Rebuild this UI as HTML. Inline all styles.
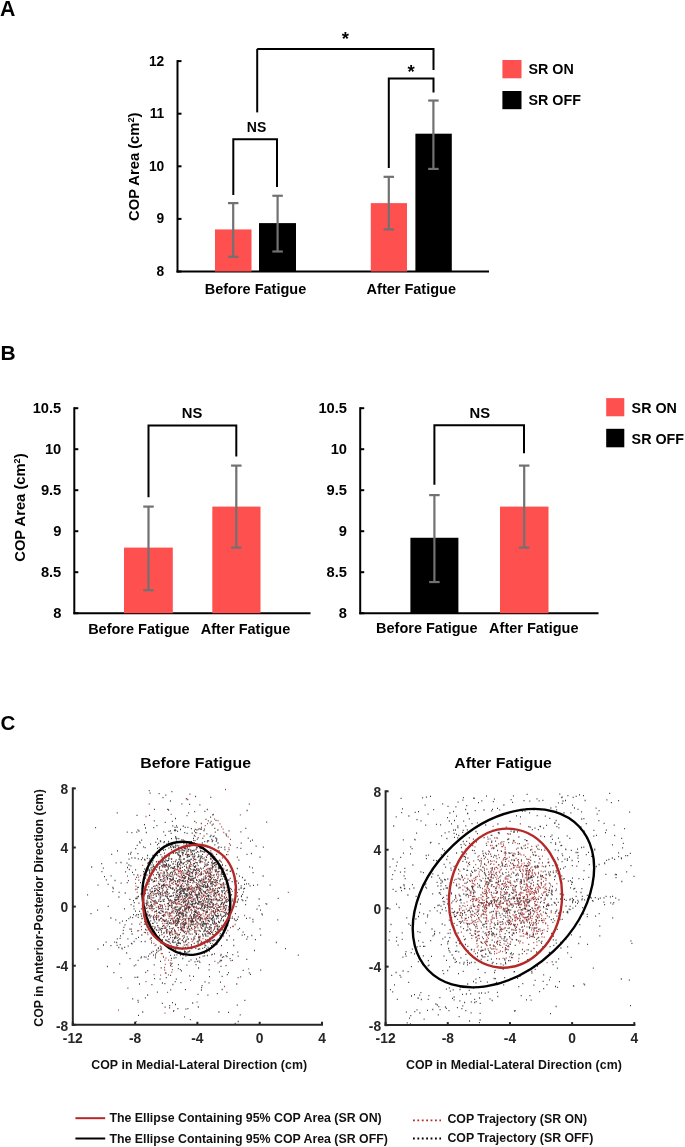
<!DOCTYPE html>
<html><head><meta charset="utf-8"><style>
html,body{margin:0;padding:0;background:#fff;}
svg{display:block;filter:blur(0.35px);}
text{font-family:"Liberation Sans", sans-serif;font-weight:bold;}
</style></head><body>
<svg width="685" height="1147" viewBox="0 0 685 1147">
<rect width="685" height="1147" fill="#fff"/>
<text x="0.10" y="15.80" font-size="21.3" text-anchor="start" fill="#000" >A</text>
<line x1="177.50" y1="60.10" x2="177.50" y2="272.50" stroke="#000" stroke-width="2" />
<line x1="176.50" y1="271.50" x2="489.00" y2="271.50" stroke="#000" stroke-width="2" />
<line x1="177.50" y1="271.50" x2="181.50" y2="271.50" stroke="#000" stroke-width="2" />
<text x="164.30" y="275.90" font-size="13.8" text-anchor="end" fill="#000" >8</text>
<line x1="177.50" y1="218.90" x2="181.50" y2="218.90" stroke="#000" stroke-width="2" />
<text x="164.30" y="223.30" font-size="13.8" text-anchor="end" fill="#000" >9</text>
<line x1="177.50" y1="166.30" x2="181.50" y2="166.30" stroke="#000" stroke-width="2" />
<text x="164.30" y="170.70" font-size="13.8" text-anchor="end" fill="#000" >10</text>
<line x1="177.50" y1="113.70" x2="181.50" y2="113.70" stroke="#000" stroke-width="2" />
<text x="164.30" y="118.10" font-size="13.8" text-anchor="end" fill="#000" >11</text>
<line x1="177.50" y1="61.10" x2="181.50" y2="61.10" stroke="#000" stroke-width="2" />
<text x="164.30" y="65.50" font-size="13.8" text-anchor="end" fill="#000" >12</text>
<rect x="215.00" y="229.42" width="36.50" height="42.08" fill="#FF5050"/>
<rect x="259.00" y="223.11" width="37.00" height="48.39" fill="#000"/>
<rect x="370.80" y="203.12" width="36.20" height="68.38" fill="#FF5050"/>
<rect x="415.40" y="133.69" width="36.40" height="137.81" fill="#000"/>
<line x1="233.20" y1="203.12" x2="233.20" y2="256.77" stroke="#717171" stroke-width="2.2" />
<line x1="227.95" y1="203.12" x2="238.45" y2="203.12" stroke="#717171" stroke-width="2.2" />
<line x1="227.95" y1="256.77" x2="238.45" y2="256.77" stroke="#717171" stroke-width="2.2" />
<line x1="277.60" y1="195.76" x2="277.60" y2="251.51" stroke="#717171" stroke-width="2.2" />
<line x1="272.35" y1="195.76" x2="282.85" y2="195.76" stroke="#717171" stroke-width="2.2" />
<line x1="272.35" y1="251.51" x2="282.85" y2="251.51" stroke="#717171" stroke-width="2.2" />
<line x1="388.80" y1="176.82" x2="388.80" y2="229.42" stroke="#717171" stroke-width="2.2" />
<line x1="383.55" y1="176.82" x2="394.05" y2="176.82" stroke="#717171" stroke-width="2.2" />
<line x1="383.55" y1="229.42" x2="394.05" y2="229.42" stroke="#717171" stroke-width="2.2" />
<line x1="433.40" y1="100.55" x2="433.40" y2="168.93" stroke="#717171" stroke-width="2.2" />
<line x1="428.15" y1="100.55" x2="438.65" y2="100.55" stroke="#717171" stroke-width="2.2" />
<line x1="428.15" y1="168.93" x2="438.65" y2="168.93" stroke="#717171" stroke-width="2.2" />
<polyline points="233.30,195.00 233.30,139.30 277.00,139.30 277.00,187.00" fill="none" stroke="#000" stroke-width="2" stroke-linejoin="miter" stroke-linecap="butt"/>
<line x1="257.20" y1="48.90" x2="257.20" y2="112.40" stroke="#000" stroke-width="2" />
<polyline points="257.20,48.90 433.50,48.90 433.50,70.00" fill="none" stroke="#000" stroke-width="2" stroke-linejoin="miter" stroke-linecap="butt"/>
<polyline points="388.80,168.00 388.80,78.50 433.50,78.50 433.50,92.50" fill="none" stroke="#000" stroke-width="2" stroke-linejoin="miter" stroke-linecap="butt"/>
<text x="256.60" y="131.60" font-size="14" text-anchor="middle" fill="#000" >NS</text>
<text x="345.40" y="45.40" font-size="18.5" text-anchor="middle" fill="#000" >*</text>
<text x="411.10" y="78.10" font-size="18.5" text-anchor="middle" fill="#000" >*</text>
<text transform="translate(138.7,166.8) rotate(-90)" font-size="14.75" text-anchor="middle" fill="#000">COP Area (cm<tspan font-size="9" dy="-5">2</tspan><tspan dy="5">)</tspan></text>
<text x="255.50" y="294.00" font-size="14.5" text-anchor="middle" fill="#000" >Before Fatigue</text>
<text x="411.30" y="294.00" font-size="14.5" text-anchor="middle" fill="#000" >After Fatigue</text>
<rect x="502.40" y="60.00" width="19.10" height="18.30" fill="#FF5050"/>
<rect x="502.40" y="91.00" width="19.10" height="18.20" fill="#000"/>
<text x="528.50" y="74.30" font-size="14.3" text-anchor="start" fill="#000" >SR ON</text>
<text x="528.50" y="104.80" font-size="14.3" text-anchor="start" fill="#000" >SR OFF</text>
<text x="0.60" y="359.90" font-size="21" text-anchor="start" fill="#000" >B</text>
<line x1="74.30" y1="407.20" x2="74.30" y2="614.20" stroke="#000" stroke-width="2" />
<line x1="73.30" y1="613.20" x2="310.50" y2="613.20" stroke="#000" stroke-width="2" />
<line x1="74.30" y1="613.20" x2="78.30" y2="613.20" stroke="#000" stroke-width="2" />
<text x="61.30" y="617.70" font-size="14.7" text-anchor="end" fill="#000" >8</text>
<line x1="74.30" y1="572.20" x2="78.30" y2="572.20" stroke="#000" stroke-width="2" />
<text x="61.30" y="576.70" font-size="14.7" text-anchor="end" fill="#000" >8.5</text>
<line x1="74.30" y1="531.20" x2="78.30" y2="531.20" stroke="#000" stroke-width="2" />
<text x="61.30" y="535.70" font-size="14.7" text-anchor="end" fill="#000" >9</text>
<line x1="74.30" y1="490.20" x2="78.30" y2="490.20" stroke="#000" stroke-width="2" />
<text x="61.30" y="494.70" font-size="14.7" text-anchor="end" fill="#000" >9.5</text>
<line x1="74.30" y1="449.20" x2="78.30" y2="449.20" stroke="#000" stroke-width="2" />
<text x="61.30" y="453.70" font-size="14.7" text-anchor="end" fill="#000" >10</text>
<line x1="74.30" y1="408.20" x2="78.30" y2="408.20" stroke="#000" stroke-width="2" />
<text x="61.30" y="412.70" font-size="14.7" text-anchor="end" fill="#000" >10.5</text>
<line x1="360.20" y1="407.20" x2="360.20" y2="614.20" stroke="#000" stroke-width="2" />
<line x1="359.20" y1="613.20" x2="598.50" y2="613.20" stroke="#000" stroke-width="2" />
<line x1="360.20" y1="613.20" x2="364.20" y2="613.20" stroke="#000" stroke-width="2" />
<text x="347.00" y="617.70" font-size="14.7" text-anchor="end" fill="#000" >8</text>
<line x1="360.20" y1="572.20" x2="364.20" y2="572.20" stroke="#000" stroke-width="2" />
<text x="347.00" y="576.70" font-size="14.7" text-anchor="end" fill="#000" >8.5</text>
<line x1="360.20" y1="531.20" x2="364.20" y2="531.20" stroke="#000" stroke-width="2" />
<text x="347.00" y="535.70" font-size="14.7" text-anchor="end" fill="#000" >9</text>
<line x1="360.20" y1="490.20" x2="364.20" y2="490.20" stroke="#000" stroke-width="2" />
<text x="347.00" y="494.70" font-size="14.7" text-anchor="end" fill="#000" >9.5</text>
<line x1="360.20" y1="449.20" x2="364.20" y2="449.20" stroke="#000" stroke-width="2" />
<text x="347.00" y="453.70" font-size="14.7" text-anchor="end" fill="#000" >10</text>
<line x1="360.20" y1="408.20" x2="364.20" y2="408.20" stroke="#000" stroke-width="2" />
<text x="347.00" y="412.70" font-size="14.7" text-anchor="end" fill="#000" >10.5</text>
<rect x="124.00" y="547.60" width="48.80" height="65.60" fill="#FF5050"/>
<rect x="212.30" y="506.60" width="48.20" height="106.60" fill="#FF5050"/>
<line x1="148.50" y1="506.60" x2="148.50" y2="590.24" stroke="#717171" stroke-width="2.2" />
<line x1="143.25" y1="506.60" x2="153.75" y2="506.60" stroke="#717171" stroke-width="2.2" />
<line x1="143.25" y1="590.24" x2="153.75" y2="590.24" stroke="#717171" stroke-width="2.2" />
<line x1="236.30" y1="465.60" x2="236.30" y2="547.60" stroke="#717171" stroke-width="2.2" />
<line x1="231.05" y1="465.60" x2="241.55" y2="465.60" stroke="#717171" stroke-width="2.2" />
<line x1="231.05" y1="547.60" x2="241.55" y2="547.60" stroke="#717171" stroke-width="2.2" />
<polyline points="148.50,497.20 148.50,425.60 236.30,425.60 236.30,456.40" fill="none" stroke="#000" stroke-width="2" stroke-linejoin="miter" stroke-linecap="butt"/>
<text x="192.00" y="418.20" font-size="14.8" text-anchor="middle" fill="#000" >NS</text>
<text x="138.90" y="633.80" font-size="14.5" text-anchor="middle" fill="#000" >Before Fatigue</text>
<text x="245.50" y="634.20" font-size="14.5" text-anchor="middle" fill="#000" >After Fatigue</text>
<text transform="translate(25,507.6) rotate(-90)" font-size="14.75" text-anchor="middle" fill="#000">COP Area (cm<tspan font-size="9" dy="-5">2</tspan><tspan dy="5">)</tspan></text>
<rect x="410.40" y="537.76" width="48.00" height="75.44" fill="#000"/>
<rect x="500.00" y="506.60" width="48.50" height="106.60" fill="#FF5050"/>
<line x1="434.40" y1="495.12" x2="434.40" y2="582.04" stroke="#717171" stroke-width="2.2" />
<line x1="429.15" y1="495.12" x2="439.65" y2="495.12" stroke="#717171" stroke-width="2.2" />
<line x1="429.15" y1="582.04" x2="439.65" y2="582.04" stroke="#717171" stroke-width="2.2" />
<line x1="524.20" y1="465.60" x2="524.20" y2="547.60" stroke="#717171" stroke-width="2.2" />
<line x1="518.95" y1="465.60" x2="529.45" y2="465.60" stroke="#717171" stroke-width="2.2" />
<line x1="518.95" y1="547.60" x2="529.45" y2="547.60" stroke="#717171" stroke-width="2.2" />
<polyline points="434.40,484.80 434.40,425.30 524.00,425.30 524.00,453.20" fill="none" stroke="#000" stroke-width="2" stroke-linejoin="miter" stroke-linecap="butt"/>
<text x="479.90" y="418.20" font-size="14.8" text-anchor="middle" fill="#000" >NS</text>
<text x="426.80" y="632.50" font-size="14.5" text-anchor="middle" fill="#000" >Before Fatigue</text>
<text x="533.80" y="632.80" font-size="14.5" text-anchor="middle" fill="#000" >After Fatigue</text>
<rect x="606.20" y="398.10" width="18.10" height="18.20" fill="#FF5050"/>
<rect x="606.20" y="428.80" width="18.10" height="18.50" fill="#000"/>
<text x="631.60" y="412.90" font-size="14.3" text-anchor="start" fill="#000" >SR ON</text>
<text x="631.60" y="443.50" font-size="14.3" text-anchor="start" fill="#000" >SR OFF</text>
<text x="0.50" y="730.30" font-size="20.5" text-anchor="start" fill="#000" >C</text>
<line x1="72.80" y1="787.40" x2="72.80" y2="1025.80" stroke="#262626" stroke-width="2" />
<line x1="71.80" y1="1024.80" x2="323.00" y2="1024.80" stroke="#262626" stroke-width="2" />
<line x1="72.80" y1="788.40" x2="75.80" y2="788.40" stroke="#262626" stroke-width="2" />
<text x="68.30" y="794.10" font-size="13.8" text-anchor="end" fill="#262626" >8</text>
<line x1="72.80" y1="847.50" x2="75.80" y2="847.50" stroke="#262626" stroke-width="2" />
<text x="68.30" y="853.20" font-size="13.8" text-anchor="end" fill="#262626" >4</text>
<line x1="72.80" y1="906.60" x2="75.80" y2="906.60" stroke="#262626" stroke-width="2" />
<text x="68.30" y="912.30" font-size="13.8" text-anchor="end" fill="#262626" >0</text>
<line x1="72.80" y1="965.70" x2="75.80" y2="965.70" stroke="#262626" stroke-width="2" />
<text x="68.30" y="971.40" font-size="13.8" text-anchor="end" fill="#262626" >-4</text>
<line x1="72.80" y1="1024.80" x2="75.80" y2="1024.80" stroke="#262626" stroke-width="2" />
<text x="68.30" y="1030.50" font-size="13.8" text-anchor="end" fill="#262626" >-8</text>
<line x1="72.80" y1="1024.80" x2="72.80" y2="1021.80" stroke="#262626" stroke-width="2" />
<text x="72.80" y="1042.80" font-size="13.8" text-anchor="middle" fill="#262626" >-12</text>
<line x1="135.10" y1="1024.80" x2="135.10" y2="1021.80" stroke="#262626" stroke-width="2" />
<text x="135.10" y="1042.80" font-size="13.8" text-anchor="middle" fill="#262626" >-8</text>
<line x1="197.40" y1="1024.80" x2="197.40" y2="1021.80" stroke="#262626" stroke-width="2" />
<text x="197.40" y="1042.80" font-size="13.8" text-anchor="middle" fill="#262626" >-4</text>
<line x1="259.70" y1="1024.80" x2="259.70" y2="1021.80" stroke="#262626" stroke-width="2" />
<text x="259.70" y="1042.80" font-size="13.8" text-anchor="middle" fill="#262626" >0</text>
<line x1="322.00" y1="1024.80" x2="322.00" y2="1021.80" stroke="#262626" stroke-width="2" />
<text x="322.00" y="1042.80" font-size="13.8" text-anchor="middle" fill="#262626" >4</text>
<text transform="translate(195.6,767.8) scale(1,0.95)" font-size="15.85" text-anchor="middle" fill="#000">Before Fatigue</text>
<text x="199.20" y="1068.50" font-size="12.35" text-anchor="middle" fill="#111" letter-spacing="0.06">COP in Medial-Lateral Direction (cm)</text>
<line x1="385.60" y1="790.30" x2="385.60" y2="1026.10" stroke="#262626" stroke-width="2" />
<line x1="384.60" y1="1025.10" x2="635.30" y2="1025.10" stroke="#262626" stroke-width="2" />
<line x1="385.60" y1="791.30" x2="388.60" y2="791.30" stroke="#262626" stroke-width="2" />
<text x="381.10" y="797.00" font-size="13.8" text-anchor="end" fill="#262626" >8</text>
<line x1="385.60" y1="849.75" x2="388.60" y2="849.75" stroke="#262626" stroke-width="2" />
<text x="381.10" y="855.45" font-size="13.8" text-anchor="end" fill="#262626" >4</text>
<line x1="385.60" y1="908.20" x2="388.60" y2="908.20" stroke="#262626" stroke-width="2" />
<text x="381.10" y="913.90" font-size="13.8" text-anchor="end" fill="#262626" >0</text>
<line x1="385.60" y1="966.65" x2="388.60" y2="966.65" stroke="#262626" stroke-width="2" />
<text x="381.10" y="972.35" font-size="13.8" text-anchor="end" fill="#262626" >-4</text>
<line x1="385.60" y1="1025.10" x2="388.60" y2="1025.10" stroke="#262626" stroke-width="2" />
<text x="381.10" y="1030.80" font-size="13.8" text-anchor="end" fill="#262626" >-8</text>
<line x1="385.60" y1="1025.10" x2="385.60" y2="1022.10" stroke="#262626" stroke-width="2" />
<text x="385.60" y="1043.10" font-size="13.8" text-anchor="middle" fill="#262626" >-12</text>
<line x1="447.77" y1="1025.10" x2="447.77" y2="1022.10" stroke="#262626" stroke-width="2" />
<text x="447.77" y="1043.10" font-size="13.8" text-anchor="middle" fill="#262626" >-8</text>
<line x1="509.95" y1="1025.10" x2="509.95" y2="1022.10" stroke="#262626" stroke-width="2" />
<text x="509.95" y="1043.10" font-size="13.8" text-anchor="middle" fill="#262626" >-4</text>
<line x1="572.12" y1="1025.10" x2="572.12" y2="1022.10" stroke="#262626" stroke-width="2" />
<text x="572.12" y="1043.10" font-size="13.8" text-anchor="middle" fill="#262626" >0</text>
<line x1="634.30" y1="1025.10" x2="634.30" y2="1022.10" stroke="#262626" stroke-width="2" />
<text x="634.30" y="1043.10" font-size="13.8" text-anchor="middle" fill="#262626" >4</text>
<text transform="translate(503.1,767.8) scale(1,0.95)" font-size="15.85" text-anchor="middle" fill="#000">After Fatigue</text>
<text x="513.90" y="1068.50" font-size="12.35" text-anchor="middle" fill="#111" letter-spacing="0.06">COP in Medial-Lateral Direction (cm)</text>
<text transform="translate(42.5,908) rotate(-90)" font-size="12.4" text-anchor="middle" fill="#111">COP in Anterior-Posterior Direction (cm)</text>
<path d="M226.8 883.6h1M188.0 907.0h1M201.3 878.7h1M151.8 908.2h1M223.9 874.7h1M177.4 943.2h1M213.0 879.5h1M186.5 906.6h1M153.1 916.2h1M174.1 880.6h1M154.1 888.6h1M186.6 891.4h1M186.8 888.8h1M185.8 933.5h1M224.7 893.0h1M184.1 862.7h1M164.3 880.6h1M159.0 887.6h1M174.0 899.7h1M199.2 889.9h1M182.1 924.5h1M216.4 873.9h1M200.0 915.4h1M183.3 879.0h1M216.1 881.0h1M204.9 919.0h1M192.3 872.0h1M183.5 942.5h1M228.1 906.9h1M181.1 902.3h1M180.1 867.2h1M185.1 919.8h1M213.0 884.4h1M196.7 895.6h1M188.1 910.1h1M185.2 904.6h1M179.0 910.5h1M178.9 934.5h1M201.3 896.5h1M199.5 937.9h1M186.7 939.2h1M179.1 876.8h1M164.0 928.2h1M182.3 852.6h1M175.8 904.6h1M172.2 929.2h1M205.2 921.1h1M192.7 922.1h1M208.1 878.9h1M177.4 902.5h1M176.1 933.8h1M193.2 916.6h1M209.3 872.0h1M177.8 855.1h1M180.8 872.0h1M197.5 870.4h1M191.7 941.7h1M185.6 861.6h1M218.5 907.3h1M179.2 879.3h1M174.5 933.0h1M175.6 874.3h1M194.1 930.3h1M173.1 923.0h1M183.6 885.9h1M226.6 874.2h1M170.3 932.8h1M209.8 933.6h1M206.2 912.3h1M178.7 876.5h1M201.9 883.9h1M212.9 895.6h1M175.8 921.1h1M198.4 912.8h1M210.5 886.4h1M205.1 913.0h1M225.4 909.0h1M192.7 864.9h1M228.1 890.0h1M190.9 886.0h1M203.4 907.8h1M154.6 927.6h1M180.0 896.9h1M198.5 887.8h1M190.1 862.7h1M210.8 902.5h1M171.4 905.7h1M195.4 859.5h1M157.3 892.1h1M180.2 880.5h1M220.2 884.6h1M218.0 887.7h1M209.9 856.3h1M179.4 893.0h1M182.2 919.1h1M206.7 923.7h1M193.3 903.5h1M164.5 867.3h1M195.5 849.8h1M204.9 873.2h1M221.7 870.0h1M184.4 920.3h1M168.4 939.7h1M196.0 916.0h1M186.3 896.2h1M200.0 890.9h1M190.8 864.6h1M181.7 901.5h1M212.3 932.1h1M208.1 862.3h1M215.1 870.9h1M193.3 859.0h1M182.2 927.3h1M158.4 930.0h1M158.2 881.9h1M213.8 877.4h1M190.5 921.6h1M175.2 907.7h1M211.8 902.7h1M214.8 893.0h1M190.0 909.9h1M204.3 852.0h1M179.7 877.0h1M158.4 906.8h1M180.2 904.7h1M186.5 932.0h1M192.9 858.4h1M177.4 899.7h1M227.6 910.2h1M177.4 885.0h1M211.3 892.0h1M222.4 909.1h1M214.2 892.1h1M221.9 917.1h1M182.1 919.4h1M213.1 888.9h1M224.5 884.1h1M205.3 934.1h1M182.0 854.4h1M172.0 883.1h1M164.5 921.3h1M195.2 866.2h1M166.2 871.5h1M192.6 918.3h1M150.4 905.8h1M180.4 859.7h1M176.6 885.2h1M166.4 893.4h1M187.5 869.8h1M216.8 926.2h1M217.3 900.5h1M222.3 898.8h1M159.5 870.4h1M164.8 912.6h1M210.8 853.8h1M212.2 888.4h1M193.1 899.5h1M179.5 908.7h1M158.4 920.8h1M164.2 892.5h1M222.3 868.1h1M164.2 880.6h1M177.5 935.4h1M176.3 875.0h1M173.9 931.0h1M155.9 888.8h1M210.8 909.9h1M161.9 888.3h1M150.6 908.9h1M164.3 864.9h1M166.4 889.1h1M179.5 892.9h1M186.3 854.1h1M208.6 916.9h1M189.9 850.2h1M162.9 872.2h1M179.7 871.8h1M157.7 927.5h1M216.7 909.9h1M221.3 872.7h1M208.1 854.4h1M221.6 886.0h1M149.2 914.6h1M209.7 873.6h1M207.6 872.7h1M156.9 890.4h1M211.5 875.5h1M203.7 857.9h1M214.3 913.2h1M214.0 922.8h1M157.0 925.6h1M158.0 894.6h1M166.0 863.7h1M154.7 886.0h1M217.6 861.4h1M191.3 890.1h1M193.7 899.5h1M171.4 931.4h1M208.2 876.0h1M190.7 852.5h1M216.1 895.2h1M163.7 871.9h1M204.3 910.9h1M155.6 901.5h1M230.0 888.3h1M224.8 910.7h1M201.0 869.2h1M160.0 904.9h1M220.4 887.0h1M205.4 872.7h1M216.7 905.2h1M163.4 864.7h1M215.1 858.5h1M185.1 923.4h1M179.6 860.9h1M188.3 942.7h1M196.6 922.7h1M170.0 937.6h1M179.3 938.9h1M228.6 879.8h1M190.6 910.1h1M152.9 923.4h1M147.3 907.8h1M181.9 876.3h1M222.8 884.1h1M179.8 889.0h1M210.7 865.1h1M213.8 921.8h1M170.0 865.4h1M208.0 932.1h1M205.4 875.6h1M177.5 889.6h1M214.8 924.6h1M193.5 889.9h1M169.1 896.5h1M168.8 902.2h1M222.3 911.5h1M213.1 875.5h1M150.5 899.4h1M212.5 863.9h1M224.4 910.6h1M173.3 861.6h1M161.0 932.5h1M167.6 894.6h1M171.4 879.9h1M205.0 860.9h1M218.4 875.2h1M208.3 929.5h1M213.9 859.9h1M207.0 911.2h1M204.3 895.3h1M177.8 937.1h1M181.8 936.1h1M192.4 871.6h1M180.0 894.1h1M184.5 902.1h1M194.8 873.1h1M210.0 883.6h1M177.2 882.1h1M184.0 888.9h1M200.8 879.9h1M182.8 924.6h1M202.4 894.2h1M198.1 914.4h1M216.6 900.9h1M206.9 854.9h1M207.7 932.8h1M175.5 924.7h1M174.4 897.8h1M206.4 909.6h1M158.3 919.6h1M172.9 923.3h1M217.2 910.3h1M160.2 877.1h1M156.4 913.7h1M210.7 930.0h1M192.4 882.8h1M169.8 913.7h1M197.2 896.8h1M211.9 869.6h1M161.3 921.3h1M207.5 906.6h1M187.0 907.8h1M188.5 928.9h1M206.3 899.1h1M180.3 916.3h1M202.4 919.9h1M198.9 939.7h1M177.7 873.5h1M209.1 926.7h1M215.3 896.3h1M201.3 921.7h1M185.0 914.3h1M198.8 912.5h1M158.7 878.0h1M209.8 872.1h1M200.5 872.8h1M147.7 912.2h1M198.3 852.2h1M195.0 872.3h1M170.8 876.5h1M199.9 861.4h1M176.9 912.0h1M189.1 865.9h1M166.9 896.8h1M186.7 854.8h1M188.6 882.4h1M228.4 909.1h1M199.9 875.2h1M213.4 898.8h1M178.9 904.1h1M155.1 878.0h1M206.8 855.4h1M199.9 899.3h1M174.8 868.9h1M174.5 923.5h1M221.6 900.7h1M177.2 922.4h1M162.9 865.5h1M206.8 904.7h1M211.9 858.2h1M210.8 899.6h1M191.8 934.1h1M176.1 925.9h1M218.0 905.4h1M217.0 876.8h1M222.5 883.4h1M198.7 888.2h1M192.8 907.0h1M210.5 853.0h1M178.2 918.7h1M183.3 925.0h1M181.8 876.5h1M219.0 911.1h1M231.8 891.3h1M214.1 880.0h1M174.7 920.3h1M196.5 868.8h1M183.2 901.2h1M200.2 902.7h1M180.2 899.8h1M201.0 918.3h1M226.5 913.3h1M205.4 896.1h1M163.8 921.3h1M188.4 918.2h1M185.2 905.1h1M227.4 880.1h1M196.7 880.7h1M185.2 880.7h1M190.9 939.0h1M189.4 873.4h1M183.3 877.8h1M148.6 895.4h1M190.8 917.2h1M199.7 936.4h1M168.8 912.7h1M184.1 932.5h1M207.3 876.3h1M165.2 906.5h1M171.4 858.8h1M221.9 864.3h1M176.5 885.2h1M208.8 927.4h1M182.7 913.7h1M210.1 881.2h1M200.4 898.4h1M195.5 933.0h1M162.6 874.0h1M211.9 860.7h1M205.6 856.6h1M186.2 867.8h1M184.1 878.6h1M187.5 899.2h1M215.7 904.1h1M162.3 866.9h1M215.2 906.3h1M199.5 859.7h1M217.2 925.2h1M228.7 896.9h1M226.2 890.4h1M205.8 925.4h1M171.6 888.5h1M223.7 906.4h1M216.9 888.5h1M225.2 894.9h1M181.8 877.4h1M212.5 854.9h1M184.5 915.8h1M227.4 892.5h1M228.7 900.4h1M204.9 901.0h1M190.6 852.7h1M155.7 895.5h1M215.9 870.2h1M175.0 881.5h1M169.1 885.0h1M195.6 917.4h1M194.1 926.8h1M223.5 885.9h1M224.3 879.0h1M156.3 917.2h1M196.5 868.9h1M184.8 870.6h1M183.0 938.3h1M202.5 938.7h1M189.3 874.5h1M216.2 885.2h1M211.8 890.4h1M163.2 937.4h1M194.5 898.3h1M172.5 939.8h1M223.3 908.6h1M214.0 890.5h1M177.1 935.1h1M204.4 870.8h1M190.2 934.1h1M216.4 884.6h1M148.7 906.5h1M204.0 866.7h1M158.2 877.0h1M192.7 860.6h1M212.8 905.5h1M225.3 915.0h1M177.7 914.9h1M218.7 860.6h1M225.1 865.6h1M179.8 856.2h1M162.3 879.8h1M221.6 902.6h1M226.5 870.7h1M174.4 873.0h1M160.5 873.0h1M210.0 858.6h1M192.8 939.6h1M168.8 878.7h1M175.3 864.3h1M190.0 882.3h1M199.0 902.2h1M187.6 881.7h1M219.5 868.5h1M171.8 879.3h1M209.1 932.7h1M199.9 888.5h1M203.7 906.0h1M194.3 938.6h1M206.4 869.8h1M172.4 887.8h1M170.1 935.6h1M196.3 874.0h1M194.7 914.6h1M211.2 912.2h1M205.2 877.1h1M196.9 885.6h1M169.5 878.7h1M196.8 915.3h1M166.3 933.2h1M214.5 885.5h1M181.7 896.7h1M206.2 886.8h1M170.7 906.2h1M154.5 905.1h1M209.2 899.2h1M202.7 903.7h1M201.8 897.4h1M175.4 894.8h1M188.2 920.4h1M217.1 900.0h1M176.7 885.1h1M186.3 923.2h1M195.1 894.7h1M176.5 915.3h1M194.4 894.9h1M191.2 927.9h1M186.7 928.7h1M210.5 894.2h1M204.5 891.9h1M175.4 894.0h1M174.1 908.8h1M189.7 907.3h1M203.5 836.0h1M194.7 862.1h1M192.3 879.8h1M191.2 921.9h1M160.5 905.0h1M188.1 861.5h1M200.5 895.5h1M180.8 884.6h1M244.0 880.3h1M158.9 884.3h1M183.2 890.5h1M188.1 877.3h1M198.7 886.1h1M166.4 885.2h1M182.9 913.6h1M197.7 889.0h1M189.8 900.6h1M224.1 879.4h1M197.4 908.9h1M173.3 902.9h1M192.2 887.4h1M199.1 914.3h1M208.6 889.9h1M192.7 940.1h1M170.7 903.9h1M204.6 897.0h1M200.6 898.1h1M202.2 918.6h1M185.7 901.0h1M188.5 889.3h1M189.1 875.6h1M202.1 926.4h1M218.4 915.8h1M173.1 927.8h1M177.3 897.7h1M220.8 871.4h1M203.7 899.6h1M186.9 880.7h1M196.6 886.8h1M207.2 916.6h1M166.1 891.1h1M184.0 875.5h1M170.5 901.5h1M185.9 866.4h1M180.3 907.9h1M169.0 882.8h1M216.4 916.9h1M162.0 875.9h1M195.9 873.3h1M185.2 888.9h1M199.0 847.8h1M152.1 879.9h1M206.7 890.9h1M160.5 910.7h1M201.5 890.1h1M183.9 905.8h1M210.0 896.1h1M198.5 894.3h1M183.0 880.6h1M193.8 890.3h1M185.3 914.7h1M197.7 911.6h1M162.7 911.5h1M179.4 883.2h1M175.0 921.7h1M203.5 880.9h1M170.2 900.1h1M181.7 929.0h1M164.7 866.5h1M185.1 897.6h1M191.7 910.4h1M224.6 884.4h1M180.2 865.3h1M193.6 912.0h1M185.0 919.5h1M190.0 924.9h1M195.1 876.0h1M178.7 869.8h1M160.0 906.5h1M204.2 930.8h1M188.5 892.4h1M170.6 918.3h1M196.1 884.4h1M201.1 905.2h1M157.7 915.8h1M191.8 889.0h1M182.4 930.5h1M215.5 926.5h1M170.0 887.6h1M204.8 871.5h1M177.2 864.9h1M220.9 911.4h1M197.2 899.5h1M182.4 890.4h1M199.9 881.6h1M210.3 884.0h1M174.6 923.4h1M187.0 907.5h1M182.4 855.7h1M198.7 869.9h1M207.8 864.6h1M157.8 907.7h1M196.7 897.5h1M168.9 916.7h1M164.6 892.1h1M176.1 891.8h1M203.9 882.4h1M199.0 908.1h1M160.4 879.6h1M183.0 886.7h1M194.7 859.7h1M201.7 908.6h1M186.6 871.3h1M189.6 886.6h1M199.1 893.5h1M201.8 886.5h1M213.9 849.5h1M172.2 908.7h1M163.8 914.7h1M168.8 901.8h1M155.8 880.9h1M191.8 897.8h1M173.4 1010.7h1M186.3 854.5h1M216.6 944.0h1M226.4 992.4h1M155.0 956.0h1M223.6 903.0h1M167.1 992.4h1M127.0 876.2h1M195.5 931.8h1M239.8 814.9h1M187.4 946.0h1M142.6 901.0h1M248.2 968.8h1M181.7 922.3h1M175.8 899.7h1M287.8 892.3h1M154.0 915.1h1M175.6 887.5h1M183.1 941.7h1M193.8 842.9h1M181.6 926.7h1M170.6 960.4h1M211.6 853.5h1M196.6 1002.2h1M237.5 900.2h1M215.6 869.3h1M138.2 930.7h1M194.1 928.7h1M185.2 919.3h1M169.1 926.7h1M213.5 900.1h1M212.9 814.5h1M160.1 975.2h1M244.1 915.5h1M182.6 839.6h1M198.0 941.9h1M137.1 930.9h1M202.2 925.0h1M148.8 930.1h1M136.6 977.4h1M190.5 844.8h1M230.4 960.7h1M164.5 1013.2h1M152.9 918.7h1M225.0 789.5h1M219.0 899.8h1M185.5 849.2h1M196.9 847.5h1M154.0 880.6h1M145.5 981.6h1M142.2 865.3h1M175.6 903.2h1M212.1 943.9h1M176.0 883.8h1M187.2 944.1h1M209.0 877.2h1M118.0 1010.2h1M217.4 916.2h1M197.2 876.9h1M153.0 886.4h1M178.7 871.7h1M137.9 887.4h1M205.0 878.3h1M186.7 799.5h1M179.1 896.9h1M145.5 816.5h1M199.6 862.5h1M202.1 882.0h1M206.6 886.1h1M136.3 898.7h1M175.2 935.9h1M171.1 883.3h1M214.4 961.3h1M211.1 954.9h1M201.0 941.5h1M215.0 923.2h1M188.1 910.1h1M265.4 903.7h1M178.2 884.8h1M184.9 915.2h1M148.7 804.0h1M195.7 822.7h1M194.5 910.0h1M224.0 986.5h1M198.1 875.3h1M147.2 863.4h1M187.3 799.5h1M188.5 902.4h1M207.3 886.3h1M189.4 866.2h1M170.7 814.3h1M190.1 980.4h1M191.4 921.3h1M153.6 974.6h1M160.7 943.1h1M189.5 855.0h1M187.1 899.3h1M184.0 901.8h1M181.3 904.6h1M179.6 907.1h1M178.2 910.5h1M177.7 914.3h1M177.1 917.9h1M178.8 921.6h1M182.3 922.9h1M185.2 923.4h1M188.1 921.9h1M190.6 920.8h1M193.4 918.3h1M196.6 915.1h1M199.6 914.5h1M202.6 913.5h1M206.9 912.3h1M210.7 911.6h1M213.2 912.0h1M216.7 911.3h1M219.4 911.6h1M223.2 912.2h1M225.9 912.8h1M229.0 914.2h1M231.9 916.8h1M234.7 920.4h1M234.6 924.5h1M232.5 926.5h1M230.0 927.6h1M227.4 930.5h1M225.9 933.0h1M223.1 936.0h1M220.6 937.9h1M217.2 939.3h1M213.5 939.8h1M210.5 940.9h1M207.0 942.6h1M204.0 943.4h1M201.3 942.3h1M199.4 940.5h1M198.5 937.8h1M198.2 934.5h1M197.6 930.5h1M196.4 926.8h1M194.3 924.6h1M191.7 921.8h1M189.3 918.5h1M186.4 916.0h1M182.7 915.3h1M179.3 917.3h1M178.0 920.3h1M174.9 922.6h1M170.9 922.9h1M167.3 921.9h1M163.4 919.9h1M161.4 918.3h1M157.6 917.5h1M156.2 915.4h1M154.2 912.0h1M152.6 909.1h1M151.1 907.0h1M148.2 905.5h1M145.4 903.4h1M143.4 899.7h1M142.7 896.5h1M140.8 893.5h1M136.7 892.3h1M135.1 889.5h1M135.5 886.2h1M135.1 883.4h1M135.1 879.4h1M138.1 877.1h1M140.2 875.7h1M142.9 874.1h1M145.9 872.9h1M149.0 872.3h1M153.3 871.7h1M156.9 872.5h1M160.3 872.9h1M164.0 872.7h1M167.0 870.2h1M170.2 868.1h1M173.7 868.7h1M176.2 869.7h1M178.0 871.5h1M179.7 873.7h1M181.7 876.9h1M185.1 878.0h1M189.2 878.5h1M192.4 878.6h1M196.1 879.8h1M199.6 880.6h1M202.5 879.6h1M204.9 876.1h1M206.8 872.5h1M208.6 869.5h1M211.2 868.7h1M213.3 866.9h1M215.7 863.8h1M217.0 861.2h1M219.3 859.9h1M222.1 858.0h1M224.4 856.2h1M227.5 854.7h1M227.4 851.6h1M228.3 847.8h1M228.9 843.6h1M230.0 839.3h1M227.7 836.9h1M225.8 834.8h1M223.3 832.5h1M222.6 829.1h1M221.1 826.9h1M219.5 823.8h1M217.5 820.6h1M214.1 819.1h1M210.7 821.3h1M207.0 823.6h1M204.8 825.6h1M201.0 827.3h1M197.6 829.6h1M196.2 832.9h1M194.7 836.4h1M193.0 840.3h1M191.0 843.8h1M188.7 846.2h1M186.7 848.5h1M186.1 852.7h1M187.4 857.0h1M188.6 861.1h1M189.5 864.7h1M189.1 867.1h1M188.3 871.1h1M186.3 874.2h1M183.9 877.3h1M181.9 880.6h1M178.6 881.9h1M175.2 883.3h1M172.7 884.4h1M170.2 885.3h1M167.3 885.2h1M164.1 885.4h1M161.2 885.4h1M157.4 886.0h1M154.2 886.1h1M151.5 888.7h1M149.7 891.5h1M148.7 894.4h1M147.6 898.6h1M147.4 902.0h1M146.5 904.4h1M144.8 907.1h1M144.2 911.4h1M143.6 915.6h1M141.5 918.9h1M140.7 922.3h1M140.9 926.5h1M141.0 929.6h1M143.8 932.4h1M147.4 934.7h1M150.4 938.0h1M151.0 940.8h1M153.4 943.4h1M154.5 945.7h1M157.9 947.6h1M159.4 950.4h1M160.8 953.6h1M162.8 956.3h1M165.4 958.1h1M168.1 960.1h1M169.8 963.0h1M171.5 966.4h1M171.9 969.7h1M171.3 972.1h1M167.9 974.9h1M164.9 972.8h1M164.2 970.0h1M164.1 967.5h1M164.8 964.3h1M164.4 960.2h1M163.1 957.3h1M161.8 953.7h1M161.1 949.6h1M160.8 947.1h1M160.5 943.4h1M161.9 939.7h1M163.8 936.5h1M163.7 932.5h1M165.1 928.4h1M167.7 924.7h1M169.6 922.3h1M172.4 919.7h1M174.8 916.7h1M178.1 914.0h1M180.1 911.9h1M182.0 910.0h1M186.1 908.1h1M189.2 907.0h1M191.7 906.3h1M195.6 907.4h1M191.5 899.6h1M193.4 900.9h1M195.2 903.3h1M198.4 904.2h1M201.5 903.9h1M204.5 902.7h1M207.2 901.9h1M209.4 900.8h1M212.7 899.8h1M216.1 898.5h1M218.9 895.9h1M222.1 896.2h1M224.6 898.7h1M227.0 899.2h1M230.0 898.1h1M230.6 895.4h1M229.5 892.5h1M227.1 890.3h1M224.3 887.7h1M223.2 885.9h1M221.1 884.8h1M218.6 883.5h1M215.1 881.9h1M211.9 881.6h1M208.3 882.3h1M205.4 883.2h1M202.3 884.3h1M200.4 885.8h1M198.5 887.1h1M195.9 887.8h1M193.4 888.2h1M190.8 888.8h1M187.4 888.4h1M184.1 888.7h1M182.0 889.4h1M180.5 892.8h1M179.1 895.0h1M178.7 897.2h1M177.0 899.2h1M174.8 900.0h1M173.2 901.6h1M171.4 904.6h1M171.0 907.6h1M171.7 910.1h1M171.4 912.9h1M171.3 916.0h1M172.1 918.5h1M173.7 921.8h1M175.2 924.7h1M177.2 927.6h1M180.0 929.5h1M183.2 931.0h1M186.9 930.9h1M190.3 930.1h1M192.3 929.3h1M195.0 927.6h1M195.0 923.9h1M193.5 921.4h1M191.5 919.9h1M187.9 919.0h1M184.4 918.6h1M181.2 920.1h1M178.1 921.0h1M175.5 919.9h1M172.7 918.2h1M169.7 915.9h1M167.5 914.9h1M164.7 915.5h1M161.7 915.3h1M158.3 916.0h1M155.0 916.9h1M152.7 917.0h1M149.6 916.6h1M147.3 915.2h1M147.2 911.5h1M149.3 908.4h1M151.0 906.3h1M152.9 904.2h1M155.1 903.0h1M157.9 901.4h1M159.7 899.0h1M161.4 895.9h1M161.8 892.7h1M162.8 890.4h1M162.8 887.4h1M163.4 884.9h1M165.5 882.2h1M169.0 881.3h1M170.8 880.0h1M172.9 877.8h1M173.8 874.7h1M175.0 872.4h1M177.6 870.5h1M180.8 871.3h1M183.3 872.2h1M186.0 873.0h1M188.7 873.4h1M191.0 872.7h1M193.2 870.4h1M193.9 866.6h1M196.8 864.1h1M199.1 862.1h1M202.2 861.9h1M204.3 862.8h1M206.5 865.3h1M207.3 868.5h1M207.5 871.1h1M208.3 874.2h1M209.2 876.6h1M209.3 880.0h1M208.3 882.4h1M207.1 884.2h1M207.0 887.1h1M206.1 890.1h1M205.8 893.9h1M206.0 896.7h1M206.8 898.9h1M206.9 902.3h1M209.6 904.9h1M211.7 906.9h1M212.7 910.7h1M210.8 914.0h1M208.6 914.9h1M207.1 916.3h1M204.5 917.9h1M201.8 918.1h1M198.5 917.8h1M195.3 917.7h1M192.3 918.8h1M188.5 919.1h1M185.5 921.1h1M184.5 923.0h1M184.1 925.7h1M183.6 928.7h1M181.6 930.9h1M179.9 932.7h1M176.6 933.3h1M174.5 933.9h1M171.7 934.0h1M169.2 933.3h1M166.7 931.9h1M165.9 929.5h1M164.5 926.6h1M162.2 923.5h1M162.2 919.6h1M163.1 916.4h1M164.3 914.5h1M165.5 911.7h1M167.3 909.4h1M167.6 906.1h1M167.9 903.5h1M168.6 900.3h1M166.9 896.9h1M165.4 895.0h1M162.6 893.7h1M160.0 893.4h1M156.9 893.4h1M153.6 894.3h1M153.3 897.7h1M153.7 900.8h1M156.1 902.8h1M159.0 904.6h1M161.9 905.3h1M164.1 904.5h1M167.9 904.2h1M171.4 903.6h1M175.2 903.5h1M177.7 903.8h1M181.2 904.7h1M184.8 904.6h1M188.6 905.0h1M191.4 906.3h1M193.7 906.8h1M196.1 906.4h1M199.6 904.9h1M201.8 904.9h1M204.9 904.7h1M208.3 906.3h1M210.3 906.9h1M213.5 907.9h1M215.1 909.7h1M215.0 912.0h1M213.9 913.8h1M212.8 916.7h1M210.9 919.4h1M208.6 921.2h1M206.9 923.1h1M204.3 923.5h1M201.2 923.0h1M198.2 923.1h1M194.7 924.2h1M191.7 924.6h1M189.6 926.2h1M186.4 926.9h1M183.4 927.7h1M181.1 929.3h1M178.1 930.1h1M175.1 931.3h1M171.5 932.1h1M168.5 931.5h1M165.7 930.8h1M163.6 928.4h1M163.6 925.3h1M164.5 923.3h1M165.8 921.0h1M168.5 918.3h1M169.8 915.5h1M170.8 912.9h1M173.2 910.5h1M174.6 907.3h1M176.5 903.8h1M178.9 901.4h1M181.1 899.3h1M184.8 898.8h1M188.0 897.9h1M190.0 896.9h1M191.4 895.1h1M193.7 892.3h1M196.2 889.6h1M197.5 887.2h1M199.1 884.9h1M201.5 883.9h1M204.8 881.8h1M207.7 881.4h1M211.3 881.9h1M214.8 882.4h1M217.1 880.7h1M217.9 877.0h1M217.8 874.2h1M216.2 871.7h1M214.4 869.8h1M211.8 868.8h1M208.8 868.6h1M205.8 869.4h1M203.4 870.9h1M201.0 872.0h1M199.5 874.9h1M197.0 876.8h1M194.8 877.9h1M193.2 881.1h1M192.1 882.9h1M190.9 885.6h1M190.2 888.8h1M189.8 891.5h1M189.5 895.1h1M190.3 898.3h1M191.5 901.3h1M191.6 903.9h1M193.3 906.5h1M194.2 909.9h1M195.9 912.6h1M197.2 915.8h1M198.9 917.2h1M201.9 918.5h1M204.2 919.1h1M206.2 917.7h1M207.1 915.4h1M209.6 913.1h1M212.4 911.3h1M214.8 910.3h1M216.9 909.6h1M219.7 907.0h1M222.9 905.8h1M225.7 907.5h1M228.6 907.2h1M230.0 904.1h1M228.7 901.4h1M226.4 899.6h1M224.2 897.8h1M221.0 896.0h1M217.8 894.5h1M215.4 893.6h1M213.1 893.8h1M210.2 892.3h1M207.8 892.3h1M204.1 892.8h1M201.2 893.5h1M198.0 893.8h1M194.8 893.4h1M191.8 895.3h1M188.9 896.9h1M187.4 898.7h1M185.5 900.3h1M184.8 903.9h1M184.0 907.2h1M185.6 909.9h1M188.6 911.9h1M191.2 913.4h1M193.0 915.0h1M194.8 918.0h1M196.2 921.5h1M198.3 924.2h1M200.1 926.8h1M201.8 928.8h1M204.9 930.3h1M207.6 932.0h1M211.4 932.2h1M213.1 930.3h1M214.2 926.7h1M213.6 923.6h1M212.3 920.4h1M209.7 918.0h1M206.7 916.3h1M203.5 916.1h1M200.3 917.0h1M197.7 918.9h1M195.4 920.6h1M192.9 921.7h1M190.8 923.1h1M187.7 924.9h1M184.2 923.8h1M180.8 923.3h1M177.5 923.1h1M177.1 919.8h1M178.9 916.3h1M179.8 913.6h1M181.5 912.3h1M184.1 910.5h1M185.1 908.5h1M186.8 905.6h1M187.4 903.5h1M187.8 901.2h1M189.2 898.0h1M191.0 894.6h1M191.2 892.3h1M189.8 889.4h1M188.2 887.4h1M186.7 885.1h1M184.7 883.3h1M181.6 881.6h1M181.2 878.0h1M180.8 875.4h1M181.5 872.2h1M179.9 870.3h1M176.9 869.0h1M174.7 869.6h1M172.7 871.1h1M170.2 872.7h1M168.4 874.1h1M167.1 875.7h1M165.4 877.8h1M164.6 880.0h1M163.9 883.8h1M162.7 885.6h1M160.9 888.1h1M158.0 890.6h1M154.3 890.9h1M152.6 893.4h1M150.4 894.5h1M150.6 897.7h1M151.2 899.8h1M152.9 901.5h1M154.1 903.9h1M155.7 907.3h1M158.2 909.0h1M160.3 910.3h1M162.9 912.1h1M165.4 912.8h1M167.4 913.4h1M169.6 913.5h1M173.5 913.1h1M176.4 912.7h1M179.2 912.4h1M182.1 910.8h1M184.8 911.3h1M188.2 910.2h1M191.0 909.5h1M193.6 908.1h1M197.4 908.1h1M200.8 907.6h1M204.3 906.5h1M206.7 907.4h1M210.2 907.9h1M214.0 908.3h1M217.6 907.4h1M221.3 906.7h1M224.9 905.4h1M225.8 902.4h1M225.3 899.1h1M223.7 897.1h1M221.3 894.7h1M218.9 894.0h1M216.7 892.8h1M214.3 890.5h1M212.0 889.5h1M209.9 888.8h1M207.5 887.2h1M205.0 886.9h1M201.5 886.5h1M198.8 885.9h1M196.6 886.3h1M193.9 887.8h1M191.2 887.9h1M189.0 887.7h1M185.7 887.8h1M182.7 889.2h1M179.6 889.8h1M176.4 891.1h1M174.2 890.2h1M172.1 889.0h1" stroke="#B04444" stroke-width="1.3" stroke-opacity="1.0" fill="none"/>
<path d="M178.8 855.4h1M197.7 949.3h1M181.9 850.0h1M182.8 923.4h1M163.5 901.3h1M211.7 862.0h1M183.5 899.2h1M177.3 945.3h1M173.4 942.6h1M212.1 918.8h1M190.8 928.4h1M183.4 926.5h1M196.4 923.9h1M212.6 915.5h1M156.9 903.1h1M193.4 938.8h1M183.4 843.6h1M219.9 879.5h1M181.6 940.4h1M148.4 870.0h1M166.7 894.9h1M201.5 910.1h1M209.9 931.3h1M193.1 891.5h1M178.4 899.0h1M196.7 862.6h1M212.9 916.6h1M152.7 865.0h1M208.7 868.5h1M206.9 871.7h1M216.4 903.3h1M165.4 892.1h1M183.2 902.3h1M187.6 874.6h1M218.1 922.2h1M184.6 922.5h1M196.3 868.8h1M183.8 898.7h1M149.3 908.4h1M202.8 896.0h1M177.0 922.8h1M224.9 916.2h1M162.7 920.0h1M208.7 942.2h1M216.0 923.3h1M153.0 874.9h1M198.7 895.0h1M158.9 875.8h1M168.1 865.1h1M168.7 941.8h1M163.3 881.4h1M186.8 856.1h1M177.6 890.2h1M195.0 867.2h1M163.4 885.9h1M191.7 919.0h1M153.0 869.9h1M160.2 897.1h1M207.6 947.5h1M162.4 866.9h1M199.9 861.1h1M208.8 933.7h1M152.8 881.8h1M184.7 877.0h1M163.2 916.3h1M183.8 924.5h1M167.6 921.0h1M173.6 892.4h1M170.2 846.9h1M168.0 886.9h1M213.7 929.4h1M196.0 872.2h1M221.7 879.0h1M214.2 928.0h1M186.4 918.1h1M204.4 945.0h1M210.5 858.1h1M220.6 874.6h1M217.3 913.3h1M178.3 915.5h1M193.0 921.5h1M146.1 903.6h1M214.2 882.4h1M202.7 910.2h1M205.4 945.8h1M152.4 897.9h1M154.6 888.4h1M185.6 864.7h1M161.2 908.7h1M199.5 920.6h1M181.4 906.2h1M226.0 897.3h1M186.5 861.0h1M209.8 928.1h1M195.0 870.4h1M172.6 940.6h1M187.7 890.0h1M212.3 904.0h1M191.5 892.0h1M194.2 915.6h1M146.1 908.3h1M168.2 858.5h1M158.6 893.3h1M202.0 934.2h1M211.9 940.5h1M181.0 929.0h1M217.3 915.5h1M193.7 943.4h1M203.7 924.1h1M156.5 903.4h1M163.3 933.1h1M151.7 867.2h1M183.2 918.8h1M226.6 914.2h1M184.9 901.6h1M187.6 851.1h1M185.0 947.3h1M173.4 908.2h1M187.2 863.1h1M154.4 921.8h1M190.2 894.5h1M215.7 880.5h1M172.3 941.8h1M183.7 859.0h1M185.7 944.8h1M199.3 919.8h1M168.8 905.5h1M165.9 876.1h1M202.9 891.2h1M201.6 925.6h1M176.7 845.5h1M154.5 900.9h1M203.2 923.8h1M208.2 896.0h1M172.5 846.5h1M205.9 927.0h1M221.3 872.3h1M210.7 924.9h1M212.0 923.0h1M166.6 941.1h1M220.3 884.5h1M218.1 910.7h1M210.6 883.7h1M155.9 861.7h1M211.3 915.6h1M149.2 872.0h1M175.6 900.7h1M160.7 881.3h1M183.9 858.8h1M168.4 848.2h1M207.7 900.4h1M207.5 941.7h1M199.8 858.5h1M155.8 919.2h1M193.4 856.8h1M219.0 868.3h1M210.9 899.6h1M183.7 932.3h1M168.0 903.3h1M195.3 895.1h1M204.9 892.1h1M158.0 932.4h1M222.7 884.3h1M174.5 907.1h1M163.0 925.6h1M187.6 860.7h1M154.1 902.1h1M153.6 908.6h1M168.6 916.1h1M148.3 915.8h1M204.9 929.2h1M217.7 918.2h1M187.2 854.9h1M169.6 887.1h1M181.4 885.7h1M195.2 866.2h1M191.0 946.2h1M190.3 947.8h1M180.0 943.5h1M181.6 915.1h1M189.1 846.6h1M159.6 929.9h1M168.7 942.1h1M166.2 866.1h1M202.2 948.4h1M193.6 906.5h1M184.0 889.0h1M186.6 890.6h1M180.2 923.9h1M172.5 876.1h1M204.4 905.5h1M160.0 918.5h1M179.0 892.4h1M185.7 940.2h1M176.3 915.3h1M159.3 866.6h1M181.2 893.5h1M199.8 925.0h1M175.3 846.1h1M213.7 920.9h1M224.0 893.5h1M196.6 941.9h1M185.6 940.9h1M192.1 921.7h1M218.6 899.9h1M184.4 908.7h1M156.3 864.7h1M228.0 900.1h1M223.8 887.2h1M195.6 902.6h1M161.8 891.2h1M167.1 877.7h1M182.2 880.3h1M169.1 933.4h1M168.5 939.2h1M210.2 902.0h1M224.9 914.0h1M150.3 879.0h1M200.0 908.9h1M197.3 945.3h1M166.4 940.4h1M203.5 910.7h1M218.0 910.0h1M216.9 882.6h1M155.9 911.6h1M190.1 915.0h1M177.5 854.4h1M220.1 904.9h1M187.6 948.0h1M223.4 890.7h1M205.9 881.9h1M162.6 860.5h1M219.4 930.3h1M169.7 943.3h1M203.2 904.1h1M187.7 907.2h1M220.3 909.3h1M200.2 918.0h1M165.0 865.3h1M219.8 933.6h1M201.0 928.0h1M203.9 884.7h1M171.7 928.3h1M169.2 934.7h1M198.0 908.7h1M193.9 866.9h1M179.4 879.6h1M153.3 881.4h1M157.8 861.3h1M207.5 920.6h1M184.7 931.3h1M159.3 875.0h1M205.2 893.1h1M195.0 874.6h1M170.9 872.2h1M157.8 890.6h1M198.5 901.2h1M214.9 871.7h1M215.9 918.8h1M202.4 921.9h1M182.2 883.6h1M200.5 855.9h1M189.9 879.5h1M171.5 902.4h1M193.2 916.8h1M198.2 903.1h1M210.5 859.4h1M208.2 897.0h1M187.2 928.6h1M212.3 864.2h1M159.0 919.8h1M179.5 919.4h1M158.3 893.8h1M226.3 905.7h1M162.0 907.2h1M197.6 943.4h1M183.3 881.4h1M150.1 893.3h1M211.8 866.0h1M217.2 872.0h1M172.2 937.6h1M181.5 930.4h1M196.4 894.3h1M155.7 893.7h1M216.8 929.0h1M204.2 907.2h1M208.3 899.2h1M159.0 876.0h1M221.0 918.3h1M146.2 889.9h1M171.3 896.0h1M169.6 905.6h1M222.7 887.9h1M218.8 888.3h1M211.9 934.1h1M211.0 945.7h1M151.9 923.3h1M206.1 857.3h1M159.7 861.4h1M183.0 863.9h1M156.1 874.6h1M190.9 921.6h1M201.7 856.8h1M223.3 906.9h1M174.9 853.0h1M196.1 933.7h1M160.6 901.3h1M213.6 896.0h1M178.8 895.0h1M223.0 920.2h1M158.1 912.4h1M172.2 867.9h1M215.9 915.9h1M185.8 944.6h1M212.5 905.3h1M148.8 881.5h1M156.4 930.3h1M159.9 894.4h1M181.9 917.2h1M165.9 856.2h1M206.1 948.8h1M200.0 888.3h1M221.2 891.0h1M147.8 895.9h1M146.5 904.9h1M195.9 884.6h1M183.2 914.0h1M200.2 848.7h1M183.0 916.1h1M183.0 875.4h1M170.1 932.2h1M163.7 873.7h1M219.3 881.0h1M203.9 908.4h1M200.7 851.1h1M167.2 889.4h1M159.3 928.1h1M179.9 909.0h1M212.9 917.3h1M186.0 908.1h1M169.3 874.9h1M205.8 918.2h1M168.9 855.7h1M214.3 893.0h1M196.4 897.9h1M219.0 867.2h1M200.3 851.7h1M204.2 947.4h1M207.1 895.7h1M194.2 932.0h1M200.2 880.9h1M197.2 886.2h1M180.8 890.8h1M156.5 889.6h1M191.0 917.1h1M168.6 893.4h1M176.4 946.2h1M207.2 927.8h1M199.0 916.7h1M197.4 857.2h1M205.8 887.4h1M205.8 931.5h1M208.9 903.4h1M183.8 937.1h1M208.8 933.3h1M198.1 936.8h1M163.2 878.4h1M153.0 917.1h1M150.5 916.0h1M191.3 921.1h1M178.3 880.0h1M182.9 915.7h1M152.4 926.3h1M146.2 905.6h1M203.2 885.5h1M187.3 952.2h1M182.6 873.5h1M175.3 933.2h1M210.0 877.4h1M154.4 926.8h1M177.8 896.9h1M203.5 879.0h1M171.0 859.1h1M195.5 907.3h1M199.9 920.0h1M215.3 899.6h1M225.6 912.3h1M174.7 942.2h1M223.8 890.1h1M223.3 907.2h1M205.3 939.6h1M195.3 948.4h1M216.5 925.2h1M150.5 902.3h1M166.8 879.5h1M179.1 917.8h1M215.1 931.7h1M192.9 878.5h1M200.1 850.6h1M156.0 878.7h1M202.2 924.1h1M146.6 879.9h1M174.9 881.3h1M158.9 912.1h1M194.8 886.8h1M154.2 928.7h1M154.2 891.7h1M215.1 933.9h1M165.6 884.6h1M190.3 850.1h1M182.2 852.4h1M184.9 941.9h1M227.8 900.5h1M181.1 862.4h1M162.1 911.7h1M155.9 917.9h1M193.5 850.1h1M197.5 927.9h1M164.1 861.3h1M182.6 873.4h1M154.9 890.4h1M212.5 867.2h1M175.7 899.8h1M151.0 904.3h1M185.2 904.8h1M222.8 876.7h1M174.6 931.1h1M177.2 864.3h1M156.0 919.7h1M214.7 886.1h1M220.8 887.4h1M198.5 902.7h1M218.3 900.7h1M161.3 870.4h1M223.1 926.3h1M177.9 897.5h1M213.6 912.8h1M154.2 881.4h1M198.8 937.0h1M178.6 908.4h1M175.3 936.6h1M170.3 881.0h1M194.6 877.6h1M223.1 882.8h1M177.4 918.6h1M160.4 879.6h1M223.2 904.4h1M161.5 928.4h1M217.1 892.0h1M214.4 935.0h1M206.2 873.5h1M167.1 860.8h1M175.9 944.6h1M192.5 854.8h1M178.1 939.8h1M207.8 879.5h1M214.0 921.9h1M206.0 924.0h1M186.4 851.2h1M161.5 905.9h1M203.8 930.2h1M149.5 890.0h1M177.6 934.4h1M162.8 885.8h1M184.9 848.5h1M202.7 873.9h1M222.8 920.8h1M154.8 868.1h1M214.7 897.9h1M151.6 905.7h1M187.3 888.4h1M208.1 920.5h1M214.0 865.4h1M158.2 874.5h1M210.6 874.9h1M194.4 855.9h1M210.2 868.2h1M216.8 916.6h1M180.4 863.0h1M192.3 921.1h1M184.1 927.4h1M176.0 923.4h1M162.9 876.1h1M156.9 855.5h1M209.3 887.5h1M214.7 904.6h1M195.4 930.6h1M165.4 927.6h1M203.5 852.0h1M148.2 877.9h1M160.3 892.7h1M187.8 870.3h1M163.9 853.2h1M179.0 934.6h1M216.5 925.4h1M175.2 900.5h1M215.3 867.0h1M167.0 878.4h1M214.6 914.3h1M168.8 905.2h1M165.7 919.4h1M152.7 869.7h1M153.3 868.5h1M214.3 890.3h1M166.8 936.7h1M162.3 915.6h1M166.7 874.2h1M210.1 874.7h1M181.2 874.1h1M162.8 901.1h1M200.5 857.8h1M149.2 898.3h1M196.2 896.5h1M179.0 943.2h1M213.2 936.9h1M200.1 868.1h1M183.3 911.0h1M206.6 863.8h1M170.1 879.2h1M152.3 891.8h1M208.7 918.4h1M194.1 856.8h1M206.2 911.8h1M215.0 893.5h1M208.4 873.3h1M175.3 938.0h1M199.7 917.6h1M217.8 866.8h1M163.7 899.3h1M203.0 921.6h1M164.8 896.0h1M186.6 912.5h1M163.2 915.0h1M162.6 858.5h1M217.3 878.7h1M192.3 876.1h1M194.7 916.4h1M162.5 899.9h1M149.1 896.3h1M216.0 899.3h1M221.3 929.7h1M152.0 891.3h1M215.2 879.7h1M156.4 923.2h1M183.7 945.2h1M163.0 884.5h1M177.2 922.3h1M211.6 885.3h1M212.0 920.8h1M190.7 918.6h1M210.8 919.5h1M178.3 854.9h1M182.2 917.2h1M199.2 887.9h1M200.3 885.9h1M207.2 889.5h1M184.8 951.6h1M193.2 899.2h1M172.5 911.9h1M203.2 895.1h1M188.9 861.1h1M191.2 901.4h1M177.9 862.0h1M201.3 889.1h1M208.0 895.2h1M178.3 849.9h1M198.3 882.0h1M204.6 864.5h1M169.3 923.4h1M208.7 921.5h1M181.0 848.8h1M197.5 916.2h1M155.8 929.6h1M226.6 901.7h1M154.0 878.1h1M177.0 895.6h1M219.2 887.9h1M179.4 938.8h1M223.8 902.6h1M203.1 887.0h1M159.1 935.3h1M167.7 941.6h1M196.5 912.7h1M207.0 885.3h1M189.4 907.7h1M225.1 905.7h1M217.8 868.8h1M151.8 862.8h1M170.7 858.8h1M182.7 853.6h1M220.2 914.2h1M213.3 924.0h1M144.9 893.5h1M217.9 915.3h1M161.7 894.5h1M183.8 859.0h1M183.2 891.7h1M159.5 864.0h1M220.3 915.4h1M188.7 933.9h1M217.8 871.8h1M212.8 934.6h1M162.2 888.9h1M197.6 904.4h1M200.7 892.6h1M195.0 920.0h1M166.6 912.1h1M159.1 884.5h1M178.4 845.8h1M207.1 889.7h1M182.9 846.3h1M166.2 932.8h1M221.4 925.5h1M179.2 864.0h1M188.8 898.1h1M223.9 907.9h1M189.6 872.0h1M193.6 917.6h1M149.5 906.1h1M151.5 887.8h1M171.6 880.0h1M208.3 899.1h1M170.6 847.6h1M169.2 914.0h1M178.6 852.7h1M171.4 900.6h1M153.6 920.0h1M176.7 911.2h1M155.8 896.3h1M184.8 908.2h1M187.9 939.0h1M209.7 941.4h1M174.9 902.8h1M180.4 925.2h1M205.7 859.8h1M205.5 865.8h1M173.1 922.1h1M161.7 865.9h1M209.8 879.9h1M161.4 934.6h1M164.7 885.8h1M151.6 910.7h1M166.5 860.7h1M221.8 890.8h1M203.2 926.0h1M221.8 892.5h1M168.4 856.8h1M193.9 866.6h1M181.8 891.1h1M215.0 862.7h1M175.0 925.5h1M185.5 895.6h1M197.9 918.1h1M206.7 907.5h1M176.8 886.1h1M194.5 911.2h1M208.8 909.6h1M203.4 931.5h1M189.0 868.1h1M167.5 866.5h1M211.9 883.9h1M206.1 912.7h1M213.9 922.2h1M184.7 894.0h1M187.7 902.1h1M177.9 896.6h1M212.2 866.4h1M190.5 880.1h1M189.4 916.0h1M185.5 914.1h1M160.9 918.1h1M176.7 910.0h1M189.3 845.5h1M174.3 901.4h1M211.3 907.2h1M190.5 869.7h1M209.3 938.2h1M186.8 893.9h1M160.4 913.4h1M229.7 918.2h1M206.6 911.9h1M170.6 924.0h1M166.6 891.6h1M190.8 917.0h1M193.0 907.1h1M174.2 870.3h1M187.4 883.8h1M165.4 869.8h1M178.5 859.3h1M164.8 862.1h1M189.3 907.1h1M218.6 871.3h1M175.5 915.8h1M182.9 891.2h1M213.8 894.6h1M167.8 869.0h1M191.8 905.2h1M164.4 875.4h1M195.0 911.2h1M176.1 909.9h1M195.5 862.7h1M181.4 906.3h1M177.2 853.2h1M181.8 913.3h1M211.7 856.2h1M228.3 880.1h1M201.7 925.5h1M202.1 903.3h1M167.8 909.0h1M174.9 845.1h1M231.7 918.3h1M215.5 883.0h1M209.9 933.8h1M211.3 900.8h1M167.1 892.4h1M151.1 859.1h1M187.9 878.1h1M183.7 895.8h1M217.3 928.7h1M185.7 923.1h1M173.9 889.9h1M201.0 874.5h1M181.9 870.6h1M188.3 932.1h1M174.3 901.5h1M172.0 873.0h1M166.6 925.9h1M224.2 912.7h1M174.9 911.5h1M181.0 914.2h1M191.0 904.6h1M196.1 887.5h1M179.9 862.1h1M179.3 868.2h1M184.1 878.3h1M188.0 907.8h1M163.6 878.9h1M171.3 911.9h1M213.7 919.1h1M180.8 927.8h1M162.1 926.3h1M175.9 839.9h1M228.9 935.8h1M169.8 899.8h1M182.9 900.0h1M162.6 881.5h1M193.9 903.8h1M205.6 902.2h1M224.0 888.1h1M190.5 859.4h1M166.3 923.3h1M171.3 907.4h1M185.4 876.7h1M180.8 887.1h1M178.6 912.9h1M196.8 887.7h1M171.8 902.4h1M184.8 919.3h1M228.9 920.7h1M185.8 894.7h1M172.6 878.0h1M170.3 888.3h1M179.5 912.8h1M180.0 893.5h1M166.9 929.8h1M194.5 936.1h1M199.2 930.5h1M182.4 912.6h1M229.7 878.3h1M205.2 935.5h1M193.1 914.9h1M206.9 887.0h1M193.1 880.8h1M175.3 884.0h1M184.0 901.1h1M193.8 869.3h1M218.9 926.5h1M198.3 892.2h1M184.9 909.7h1M193.1 863.7h1M198.6 961.2h1M156.0 915.7h1M192.4 896.7h1M208.9 876.0h1M189.1 929.5h1M183.1 889.1h1M188.3 889.1h1M211.9 882.2h1M200.8 873.5h1M197.4 897.4h1M143.8 893.2h1M168.8 886.8h1M211.7 877.7h1M168.9 926.7h1M188.3 931.2h1M191.7 880.3h1M185.3 924.2h1M201.9 900.2h1M187.2 896.0h1M176.8 938.1h1M186.5 874.4h1M178.5 912.8h1M197.0 896.7h1M175.4 897.5h1M158.8 867.5h1M199.5 889.7h1M192.6 924.8h1M197.1 900.0h1M221.5 916.6h1M180.5 913.1h1M193.1 881.0h1M187.6 895.0h1M154.0 890.8h1M181.7 888.5h1M159.3 887.6h1M185.7 900.4h1M167.7 909.5h1M166.3 891.2h1M207.9 886.2h1M178.0 920.0h1M180.1 891.3h1M190.0 920.9h1M150.1 876.5h1M169.8 873.4h1M172.3 878.9h1M191.3 880.1h1M188.4 907.0h1M174.4 899.7h1M213.3 908.3h1M175.9 895.7h1M171.3 902.2h1M200.5 882.8h1M183.0 921.3h1M178.2 901.3h1M169.6 879.1h1M178.0 942.1h1M179.8 886.6h1M177.4 893.8h1M196.9 903.5h1M219.4 906.6h1M209.6 906.8h1M196.1 869.8h1M184.3 896.7h1M182.5 853.6h1M200.5 892.0h1M179.4 892.2h1M182.7 906.3h1M166.0 876.7h1M191.0 901.9h1M180.3 885.8h1M173.0 895.5h1M205.3 878.8h1M210.8 918.6h1M179.1 913.6h1M162.9 859.9h1M165.7 887.4h1M181.2 887.1h1M188.0 854.6h1M194.3 870.1h1M175.8 888.6h1M167.8 867.9h1M170.3 896.2h1M195.8 911.0h1M170.4 880.1h1M171.6 905.8h1M153.7 919.9h1M178.6 881.3h1M191.8 920.2h1M191.9 920.6h1M188.5 923.9h1M206.3 898.6h1M209.5 904.4h1M187.8 879.5h1M181.8 913.8h1M165.3 909.2h1M192.0 904.7h1M151.0 892.0h1M196.8 883.9h1M187.8 849.6h1M197.1 886.0h1M200.3 862.1h1M197.5 894.8h1M199.3 880.8h1M176.5 943.3h1M173.1 882.2h1M181.9 876.8h1M205.5 936.1h1M175.1 861.5h1M205.2 923.4h1M199.6 923.7h1M172.5 893.2h1M164.2 866.5h1M202.1 886.4h1M222.9 904.2h1M176.1 913.5h1M215.3 911.7h1M166.9 903.6h1M208.4 890.8h1M174.0 917.8h1M188.6 875.9h1M172.7 863.7h1M196.4 908.7h1M226.3 939.9h1M131.3 924.2h1M217.4 926.7h1M222.1 874.4h1M152.7 951.4h1M148.7 790.7h1M221.9 865.3h1M175.3 830.3h1M139.6 842.9h1M173.4 922.2h1M105.6 942.1h1M144.6 847.6h1M209.7 899.1h1M132.2 998.9h1M155.9 915.9h1M193.0 976.4h1M170.1 955.4h1M160.0 961.4h1M159.3 884.2h1M252.4 919.5h1M189.8 1019.6h1M198.6 860.6h1M211.7 841.6h1M225.5 965.7h1M165.9 870.3h1M192.2 903.7h1M151.8 932.5h1M114.5 880.5h1M171.9 888.8h1M196.8 839.1h1M206.6 893.6h1M163.2 831.9h1M144.6 921.7h1M152.3 906.3h1M223.2 956.7h1M240.6 887.6h1M148.0 956.1h1M196.8 961.4h1M186.4 965.2h1M215.6 940.3h1M203.6 923.7h1M194.2 914.7h1M220.7 876.4h1M246.7 897.5h1M220.5 898.3h1M177.4 1008.7h1M175.2 836.6h1M161.0 886.5h1M261.4 913.8h1M218.7 850.9h1M198.3 937.9h1M249.1 866.8h1M207.1 918.7h1M150.2 902.0h1M207.0 931.1h1M170.6 833.4h1M237.8 916.8h1M221.6 976.3h1M167.8 945.2h1M177.6 899.7h1M183.0 902.9h1M225.0 909.4h1M180.6 888.6h1M197.9 856.5h1M168.4 900.3h1M166.2 896.8h1M164.6 1007.2h1M232.5 926.4h1M184.1 1016.9h1M197.3 898.5h1M196.6 918.9h1M235.4 902.0h1M259.5 857.1h1M210.3 850.9h1M249.6 885.8h1M184.0 951.1h1M229.9 845.2h1M173.9 830.5h1M190.8 897.7h1M173.8 867.4h1M172.5 864.2h1M204.5 981.8h1M118.4 897.0h1M171.4 928.6h1M152.7 895.4h1M149.6 939.2h1M189.5 894.6h1M199.0 890.2h1M131.6 934.0h1M196.1 895.0h1M220.5 966.4h1M147.8 862.4h1M240.2 976.8h1M160.2 841.6h1M163.7 877.1h1M130.6 904.6h1M141.2 840.1h1M218.1 867.5h1M183.5 935.7h1M214.5 885.5h1M187.5 860.1h1M247.2 936.8h1M147.4 903.2h1M211.0 927.9h1M250.0 974.4h1M167.1 898.4h1M141.1 916.0h1M189.4 794.2h1M162.5 908.8h1M142.0 857.9h1M173.2 920.8h1M180.2 856.8h1M213.6 874.9h1M168.5 831.3h1M158.5 936.9h1M129.4 899.3h1M211.1 883.4h1M194.4 844.9h1M231.9 960.3h1M194.2 811.7h1M149.4 953.8h1M246.0 918.4h1M229.7 871.4h1M179.4 903.1h1M200.8 823.5h1M218.9 971.8h1M145.8 832.5h1M198.3 869.0h1M103.0 945.0h1M191.4 878.2h1M260.0 910.2h1M159.6 908.3h1M149.6 863.4h1M199.5 874.2h1M170.2 989.8h1M216.1 944.7h1M204.5 928.2h1M237.0 902.0h1M250.9 853.5h1M177.1 831.3h1M174.0 930.0h1M236.8 868.5h1M186.2 884.3h1M160.1 841.2h1M188.1 812.9h1M189.9 904.1h1M163.0 850.4h1M137.5 1000.3h1M139.0 984.0h1M207.0 884.1h1M145.5 957.2h1M246.5 854.4h1M175.5 957.7h1M197.8 1007.0h1M166.0 931.2h1M142.2 1012.0h1M181.6 895.7h1M253.0 885.4h1M185.6 933.9h1M241.5 899.7h1M222.4 929.9h1M175.6 907.0h1M187.0 855.4h1M228.5 830.9h1M227.0 952.6h1M182.7 863.2h1M178.1 927.6h1M212.0 917.9h1M220.7 874.0h1M194.2 821.4h1M212.7 911.0h1M171.5 963.4h1M187.4 827.3h1M167.9 906.9h1M177.2 921.2h1M208.6 969.9h1M151.4 984.7h1M153.4 917.4h1M226.6 940.1h1M153.1 866.5h1M169.8 900.3h1M226.1 835.8h1M202.3 934.7h1M205.5 927.2h1M239.1 928.4h1M216.0 932.3h1M248.8 804.2h1M230.9 889.4h1M176.2 852.6h1M120.6 883.1h1M161.9 928.7h1M134.5 977.4h1M195.5 890.1h1M161.2 862.1h1M146.4 874.7h1M186.2 893.8h1M136.5 889.2h1M154.7 911.3h1M251.3 935.5h1M175.0 818.5h1M136.5 815.3h1M211.4 863.2h1M188.2 870.7h1M189.2 975.9h1M162.0 885.3h1M157.8 948.5h1M150.1 844.1h1M137.4 829.8h1M151.2 952.5h1M194.8 845.7h1M176.3 890.9h1M161.8 1003.4h1M119.3 922.8h1M197.6 872.9h1M191.2 948.6h1M191.3 924.7h1M210.3 797.3h1M237.7 1021.5h1M220.3 955.7h1M136.7 896.8h1M157.6 872.5h1M219.8 861.2h1M181.4 803.8h1M180.5 907.7h1M161.3 865.6h1M252.0 840.1h1M149.2 860.9h1M228.0 1012.3h1M197.6 865.7h1M171.0 958.4h1M154.1 978.6h1M235.6 906.7h1M208.6 942.0h1M240.4 848.3h1M227.3 883.5h1M159.1 908.3h1M178.5 851.7h1M130.1 854.0h1M236.8 1005.1h1M208.8 964.7h1M167.9 899.0h1M195.9 846.8h1M151.4 908.1h1M174.8 847.7h1M199.5 889.3h1M221.7 902.7h1M175.5 909.6h1M180.0 868.3h1M171.9 942.0h1M208.6 969.9h1M126.7 882.6h1M171.5 911.9h1M170.2 876.3h1M213.4 912.3h1M145.2 972.4h1M220.9 873.2h1M215.1 864.8h1M225.4 891.7h1M157.9 883.6h1M159.2 913.0h1M192.1 904.9h1M189.2 804.4h1M194.5 961.8h1M195.6 882.7h1M179.7 896.1h1M166.8 872.6h1M153.7 964.8h1M185.5 952.7h1M177.2 906.8h1M180.0 927.1h1M214.9 915.5h1M162.4 862.4h1M244.1 888.4h1M175.8 979.2h1M224.1 930.8h1M199.8 931.4h1M180.0 829.5h1M139.3 924.2h1M199.7 890.5h1M145.0 828.0h1M174.5 827.3h1M217.5 962.9h1M285.0 948.7h1M165.3 857.7h1M179.8 953.3h1M207.4 933.6h1M193.5 937.4h1M236.7 847.6h1M170.0 830.8h1M242.7 970.4h1M212.3 840.7h1M192.1 890.8h1M188.8 893.2h1M204.2 882.5h1M215.9 915.6h1M175.7 897.2h1M170.6 945.3h1M176.5 918.3h1M172.3 825.8h1M217.7 848.0h1M209.8 924.8h1M128.0 853.9h1M168.0 860.3h1M144.6 941.5h1M177.6 923.1h1M170.9 918.9h1M159.7 901.6h1M206.4 905.3h1M170.0 846.5h1M191.9 920.9h1M177.0 863.0h1M175.4 920.5h1M190.3 866.3h1M234.5 889.8h1M158.8 891.6h1M191.8 873.9h1M184.2 832.6h1M178.1 943.3h1M254.9 939.7h1M195.5 964.6h1M221.7 989.5h1M223.9 896.9h1M195.0 912.3h1M196.6 913.4h1M158.6 793.6h1M162.5 797.6h1M188.4 903.2h1M127.4 938.8h1M216.3 908.0h1M244.4 1000.3h1M143.8 956.9h1M201.4 924.8h1M218.7 865.6h1M165.3 860.0h1M159.6 897.9h1M135.2 848.6h1M206.2 899.3h1M199.4 804.8h1M158.6 874.1h1M187.1 872.5h1M218.7 900.0h1M186.6 903.7h1M210.8 878.5h1M225.3 926.9h1M191.4 905.2h1M204.2 955.8h1M219.1 922.5h1M216.7 909.2h1M229.8 901.6h1M113.4 972.6h1M189.8 842.1h1M179.1 857.0h1M259.5 928.9h1M131.1 931.4h1M172.0 1002.7h1M188.3 884.9h1M171.4 791.7h1M200.9 990.0h1M119.2 963.9h1M201.3 893.2h1M224.7 930.4h1M165.3 939.9h1M168.1 810.0h1M257.1 884.8h1M164.7 920.6h1M131.4 832.6h1M168.5 876.0h1M188.5 961.4h1M169.4 928.6h1M207.1 846.6h1M194.0 854.0h1M223.2 926.7h1M186.6 833.3h1M190.1 863.1h1M210.7 896.8h1M157.6 951.1h1M211.3 872.1h1M226.7 887.5h1M175.2 909.4h1M159.7 880.0h1M180.4 982.6h1M238.5 889.5h1M242.4 900.7h1M199.3 948.9h1M194.5 840.7h1M231.7 881.6h1M221.0 945.6h1M214.0 953.9h1M245.2 900.6h1M218.8 864.3h1M173.6 958.0h1M199.7 833.7h1M198.6 893.5h1M157.3 925.6h1M171.8 821.3h1M147.1 995.0h1M133.0 914.6h1M207.4 936.2h1M143.1 886.3h1M190.9 944.6h1M163.4 842.5h1M221.1 960.5h1M199.0 871.3h1M200.2 908.7h1M215.3 838.0h1M190.1 894.7h1M147.2 914.2h1M187.2 881.7h1M199.9 829.2h1M184.1 925.4h1M195.9 959.0h1M144.0 824.6h1M194.4 926.7h1M260.2 935.1h1M155.4 944.9h1M156.4 825.7h1M277.3 919.9h1M211.0 932.3h1M249.4 917.8h1M228.6 849.6h1M137.3 977.2h1M237.6 929.6h1M193.9 911.6h1M161.9 983.0h1M209.1 929.3h1M199.2 957.5h1M203.7 941.8h1M145.1 929.5h1M262.6 876.0h1M181.5 949.4h1M219.5 935.5h1M129.4 929.1h1M144.6 860.1h1M205.2 887.6h1M213.2 940.6h1M154.6 869.6h1M148.8 875.3h1M147.8 868.7h1M178.7 851.0h1M136.3 832.2h1M201.9 906.1h1M221.9 957.3h1M174.1 937.8h1M135.6 1021.7h1M227.8 891.8h1M145.3 922.8h1M120.5 862.5h1M212.2 906.9h1M168.8 952.4h1M149.6 917.8h1M168.6 858.9h1M202.2 851.4h1M252.6 872.6h1M255.6 846.1h1M207.2 840.6h1M139.1 911.3h1M209.7 836.7h1M227.4 861.5h1M190.6 922.7h1M206.8 809.5h1M242.6 932.2h1M171.1 849.7h1M126.7 832.2h1M205.1 885.3h1M146.4 875.6h1M240.7 885.8h1M165.5 973.2h1M202.2 905.3h1M164.7 822.3h1M145.0 878.0h1M178.3 921.5h1M205.3 914.6h1M193.7 850.6h1M110.6 875.9h1M152.6 869.1h1M176.4 838.3h1M147.1 897.8h1M190.1 868.9h1M203.4 891.6h1M150.3 905.1h1M251.9 867.9h1M226.8 974.6h1M238.4 860.2h1M256.5 909.1h1M177.1 891.0h1M207.1 905.7h1M179.8 969.7h1M160.7 848.8h1M213.8 939.6h1M224.3 847.2h1M223.8 928.1h1M247.7 838.1h1M193.6 888.6h1M130.4 865.8h1M225.4 878.6h1M160.7 948.1h1M220.6 954.3h1M158.4 900.0h1M222.1 868.9h1M159.8 946.1h1M240.7 843.1h1M95.1 827.6h1M150.6 895.8h1M207.6 895.4h1M161.5 911.0h1M152.3 900.6h1M214.6 859.6h1M151.1 880.2h1M128.4 865.0h1M160.2 949.0h1M171.1 861.9h1M139.1 841.8h1M183.7 891.8h1M225.7 870.3h1M223.1 916.4h1M185.8 798.6h1M140.8 941.6h1M234.9 913.7h1M212.7 881.8h1M173.0 868.5h1M220.1 920.8h1M177.8 885.9h1M205.5 919.8h1M156.9 992.2h1M195.0 903.5h1M237.7 956.2h1M182.9 930.9h1M148.6 869.7h1M106.9 966.5h1M119.6 938.4h1M156.9 852.1h1M179.2 916.9h1M207.4 995.1h1M198.6 948.8h1M165.1 940.1h1M191.4 878.9h1M182.6 899.8h1M192.7 923.9h1M168.2 864.5h1M212.2 814.8h1M164.4 983.7h1M91.2 867.0h1M210.1 817.2h1M236.3 984.0h1M218.1 891.5h1M198.5 856.3h1M214.3 844.8h1M176.4 954.8h1M147.0 884.1h1M191.7 833.2h1M226.8 920.7h1M133.0 900.6h1M158.9 868.8h1M188.7 866.1h1M219.8 866.4h1M220.4 900.7h1M216.0 874.9h1M168.3 843.1h1M206.2 951.8h1M260.2 970.1h1M194.7 892.0h1M199.6 901.6h1M237.2 952.1h1M156.7 867.2h1M233.9 919.0h1M177.9 964.7h1M172.4 888.5h1M169.9 801.0h1M216.2 840.1h1M166.1 864.3h1M211.4 899.4h1M186.5 815.7h1M182.9 826.2h1M196.8 922.1h1M185.4 1009.2h1M204.5 934.0h1M191.0 893.0h1M219.8 960.3h1M140.5 957.8h1M204.0 953.0h1M202.3 838.3h1M144.9 997.9h1M194.8 829.3h1M198.2 884.2h1M129.9 917.1h1M184.3 890.0h1M196.0 934.3h1M112.4 887.3h1M157.0 838.9h1M166.8 896.6h1M176.7 827.4h1M169.1 1007.8h1M149.1 815.3h1M195.6 934.0h1M202.2 844.8h1M220.9 862.2h1M146.3 871.4h1M182.2 940.1h1M207.8 901.8h1M218.7 907.2h1M217.4 830.0h1M130.9 943.3h1M137.3 887.3h1M182.6 877.6h1M170.1 975.4h1M97.5 949.0h1M266.3 904.2h1M185.3 940.8h1M250.0 841.2h1M189.1 893.3h1M205.6 911.3h1M209.1 881.1h1M187.7 868.1h1M162.7 895.6h1M181.0 842.0h1M241.0 896.0h1M137.6 960.3h1M159.8 929.4h1M185.4 916.0h1M192.0 873.1h1M187.4 1008.7h1M107.7 906.4h1M201.2 848.3h1M138.0 1015.3h1M173.0 1011.1h1M204.8 907.0h1M202.7 936.0h1M227.3 925.7h1M191.1 912.2h1M233.3 945.5h1M150.9 869.9h1M197.6 870.6h1M172.8 853.3h1M176.8 925.0h1M220.8 903.5h1M258.6 899.0h1M297.8 955.1h1M203.4 877.1h1M87.1 894.9h1M192.2 1003.0h1M137.7 1002.1h1M177.2 940.7h1M97.1 910.2h1M174.0 938.5h1M189.2 843.6h1M219.1 939.1h1M206.9 955.5h1M224.5 901.9h1M138.5 831.0h1M233.2 939.9h1M189.6 880.4h1M187.1 904.3h1M174.2 866.7h1M261.8 914.9h1M164.8 835.3h1M160.6 940.4h1M212.5 891.6h1M187.8 887.1h1M147.2 970.7h1M159.5 895.8h1M216.9 890.3h1M137.4 853.7h1M189.5 920.9h1M182.7 955.2h1M220.7 919.8h1M186.9 889.8h1M205.3 950.8h1M188.1 926.4h1M174.6 829.6h1M151.0 942.8h1M201.6 985.7h1M188.0 948.0h1M232.3 954.7h1M164.7 893.4h1M190.5 851.7h1M202.6 956.2h1M169.2 1005.6h1M175.8 892.4h1M177.7 866.2h1M200.6 904.0h1M244.1 934.6h1M204.8 891.5h1M136.5 898.3h1M156.2 952.5h1M184.9 989.6h1M211.7 946.4h1M194.1 913.9h1M208.9 951.0h1M161.1 928.6h1M277.7 898.3h1M177.1 867.0h1M135.3 964.8h1M188.1 918.6h1M154.9 957.8h1M207.8 923.8h1M202.8 901.9h1M241.7 935.1h1M198.1 968.0h1M217.5 927.1h1M197.5 994.4h1M203.9 898.5h1M156.1 885.3h1M149.4 908.7h1M195.1 796.5h1M186.7 936.9h1M191.9 853.5h1M230.5 866.9h1M143.1 846.9h1M185.6 954.2h1M226.9 914.0h1M144.3 869.0h1M154.6 893.8h1M124.0 908.9h1M208.6 895.3h1M202.1 854.3h1M135.1 869.9h1M226.5 956.6h1M170.0 965.6h1M174.7 981.7h1M202.9 879.5h1M213.9 862.7h1M153.3 827.6h1M195.1 900.2h1M183.3 881.7h1M236.3 881.0h1M160.7 967.8h1M235.7 920.6h1M125.1 871.8h1M207.5 903.9h1M240.4 831.9h1M209.7 870.4h1M232.3 899.1h1M222.1 869.3h1M136.7 845.3h1M164.8 849.7h1M228.0 972.6h1M195.6 849.2h1M181.9 867.3h1M236.9 919.4h1M203.1 882.2h1M115.6 862.9h1M146.9 922.3h1M189.4 861.3h1M172.4 984.5h1M152.4 855.3h1M178.0 866.6h1M171.0 930.6h1M246.6 810.5h1M185.4 905.2h1M183.1 893.3h1M174.1 955.2h1M169.7 896.4h1M186.0 908.6h1M180.0 955.0h1M185.7 912.1h1M184.2 850.8h1M157.0 848.4h1M192.7 865.9h1M148.9 915.4h1M204.4 811.4h1M245.1 904.7h1M182.3 958.5h1M188.4 871.6h1M262.8 847.1h1M182.6 947.1h1M148.6 897.7h1M154.8 900.5h1M209.1 907.2h1M143.9 924.2h1M189.8 926.2h1M225.6 955.7h1M200.3 919.2h1M147.6 896.0h1M193.7 882.1h1M189.4 860.1h1M239.7 1014.9h1M172.4 923.8h1M177.8 968.7h1M201.2 907.0h1M178.2 909.6h1M151.0 938.1h1M161.0 930.8h1M190.5 959.9h1M185.4 956.2h1M153.7 934.7h1M178.2 913.1h1M188.5 951.7h1M115.3 919.8h1M133.7 965.8h1M117.0 850.8h1M127.4 988.2h1M140.9 908.9h1M167.2 809.4h1M174.2 937.5h1M179.6 951.9h1M173.3 903.4h1M172.5 920.9h1M252.5 921.8h1M192.8 870.8h1M159.6 979.1h1M147.1 855.5h1M182.6 880.8h1M198.6 940.1h1M146.8 869.5h1M201.1 987.7h1M153.8 820.9h1M220.0 982.2h1M236.8 892.7h1M225.3 900.7h1M172.9 879.5h1M237.6 977.6h1M111.2 854.3h1M248.2 883.9h1M138.4 903.2h1M182.2 897.9h1M169.2 886.9h1M170.0 920.4h1M157.6 887.9h1M181.0 970.9h1M199.1 897.3h1M204.8 924.1h1M224.1 929.3h1M248.8 972.9h1M184.6 881.4h1M216.9 929.9h1M182.7 826.2h1M121.9 921.1h1M213.0 944.8h1M140.9 956.9h1M167.3 923.2h1M200.6 861.3h1M165.3 795.2h1M153.9 809.3h1M201.3 906.2h1M218.0 921.5h1M163.8 921.0h1M172.3 934.7h1M197.0 851.6h1M186.1 905.9h1M175.2 949.5h1M246.0 883.9h1M181.5 880.3h1M110.4 918.0h1M206.7 864.8h1M173.0 852.7h1M212.7 824.1h1M175.0 1004.5h1M187.8 927.3h1M180.9 841.9h1M184.9 924.1h1M150.2 920.8h1M229.6 958.6h1M130.6 852.3h1M129.5 958.7h1M207.4 939.6h1M155.3 842.3h1M188.7 908.3h1M156.1 910.4h1M208.6 914.9h1M149.6 793.1h1M176.9 911.5h1M176.9 880.7h1M161.8 940.2h1M184.2 909.4h1M152.0 870.7h1M191.7 850.7h1M141.9 885.9h1M228.0 912.9h1M237.1 896.2h1M175.1 830.6h1M165.8 977.6h1M197.5 941.1h1M210.7 902.5h1M178.8 909.2h1M209.5 926.8h1M203.2 911.0h1M159.1 889.4h1M153.0 955.2h1M112.4 891.7h1M269.6 885.2h1M146.3 902.1h1M231.1 894.7h1M207.5 908.2h1M188.5 875.1h1M168.9 922.8h1M200.3 943.1h1M190.9 828.6h1M204.6 886.9h1M176.0 825.9h1M165.9 865.2h1M184.7 827.4h1M187.8 909.5h1M146.8 870.5h1M156.0 950.2h1M97.5 885.1h1M127.9 880.6h1M215.6 870.2h1M190.8 859.1h1M253.9 950.5h1M225.5 833.9h1M147.5 959.1h1M179.2 889.6h1M197.7 837.7h1M213.1 904.0h1M202.8 868.1h1M204.0 866.3h1M219.4 961.7h1M217.9 929.9h1M215.2 888.7h1M189.3 888.2h1M137.3 875.0h1M209.0 976.7h1M164.2 856.0h1M236.8 857.1h1M258.6 905.6h1M155.1 954.2h1M245.3 828.4h1M240.6 888.4h1M238.0 883.2h1M130.8 929.1h1M218.4 1012.0h1M246.3 939.2h1M177.7 875.9h1M175.7 859.8h1M192.3 901.5h1M275.8 942.5h1M169.2 932.4h1M143.1 871.7h1M120.6 977.7h1M206.8 841.9h1M183.9 952.4h1M203.3 922.9h1M156.0 869.9h1M189.3 950.9h1M157.0 844.7h1M226.0 854.6h1M223.7 915.6h1M216.8 993.7h1M210.1 943.4h1M153.9 866.9h1M208.5 982.8h1M234.7 1023.5h1M196.9 913.5h1M221.2 904.0h1M183.8 848.5h1M220.7 847.3h1M203.9 829.2h1M224.4 849.5h1M215.5 820.4h1M170.6 964.3h1M157.8 906.5h1M196.8 925.5h1M147.2 932.8h1M158.2 850.8h1M186.2 867.6h1M266.2 822.1h1M211.8 954.4h1M116.7 812.9h1M205.7 878.0h1M199.4 962.3h1M173.0 847.7h1M90.5 913.6h1M153.5 919.3h1M194.1 831.0h1M246.3 959.3h1M215.7 841.4h1M171.7 874.6h1M171.5 844.5h1M201.2 914.9h1M101.2 863.7h1M102.8 868.1h1M101.4 871.6h1M104.0 876.6h1M105.8 879.8h1M107.6 884.4h1M112.7 888.6h1M118.6 892.3h1M124.7 893.0h1M110.4 945.6h1M114.2 942.2h1M119.7 944.6h1M121.7 948.9h1M126.2 953.0h1M186.1 895.3h1M183.9 893.1h1M181.8 890.9h1M179.2 888.1h1M177.7 885.7h1M176.9 881.6h1M175.8 878.4h1M175.7 874.2h1M173.5 871.5h1M171.9 868.3h1M169.0 866.1h1M164.7 865.2h1M162.5 864.0h1M158.2 862.9h1M155.9 861.8h1M152.5 860.5h1M149.2 858.9h1M146.8 858.3h1M144.1 859.5h1M140.9 859.7h1M137.8 858.8h1M134.5 858.0h1M131.3 857.8h1M128.5 859.2h1M126.5 863.2h1M127.0 867.5h1M128.8 869.5h1M132.0 872.3h1M133.4 874.6h1M136.1 877.4h1M138.3 880.1h1M140.0 882.7h1M142.9 885.2h1M144.6 887.2h1M146.7 889.6h1M147.6 893.2h1M147.0 896.2h1M146.5 900.5h1M146.5 904.9h1M144.5 908.1h1M143.8 911.0h1M140.5 913.8h1M138.0 914.6h1M135.4 915.8h1M132.2 917.7h1M128.4 918.6h1M125.9 920.7h1M124.5 924.8h1M123.4 927.4h1M122.8 930.3h1M122.6 933.5h1M120.0 935.8h1M116.8 938.9h1M116.2 942.5h1M116.6 945.3h1M118.3 947.5h1M121.4 948.2h1M124.2 947.3h1M127.7 946.1h1M131.5 943.8h1M133.6 941.5h1M135.6 938.7h1M138.0 937.3h1M141.3 935.0h1M144.9 932.7h1M146.4 930.2h1M146.7 927.0h1M145.3 924.4h1M144.1 921.7h1M141.6 918.3h1M137.7 917.3h1M136.3 914.6h1M135.0 911.2h1M133.6 908.9h1M133.3 906.1h1M133.8 902.6h1M135.3 898.5h1M138.0 896.5h1M140.6 894.2h1M143.9 892.7h1M146.7 890.2h1M148.2 886.8h1M148.4 884.0h1M149.0 879.8h1M149.3 876.9h1M149.1 873.4h1M149.3 870.5h1M150.5 868.0h1M150.5 864.9h1M151.3 861.1h1M153.3 857.8h1M155.6 855.1h1M159.0 852.3h1M162.3 849.3h1M163.6 846.5h1M166.2 844.1h1M168.1 841.3h1M171.0 838.7h1M175.3 838.0h1M178.3 838.7h1M181.2 839.8h1M183.5 840.9h1M186.1 843.9h1M187.0 847.1h1M188.5 849.1h1M192.4 850.8h1M195.7 852.7h1M198.2 854.9h1M200.5 856.8h1M202.4 858.6h1M204.5 859.9h1M207.7 862.3h1M211.2 862.6h1M213.9 863.3h1M216.2 864.7h1M219.2 867.4h1M223.3 869.1h1M226.8 869.9h1M230.1 871.1h1M232.5 871.9h1M236.1 873.8h1M238.9 876.1h1M241.9 877.5h1M244.7 880.1h1M244.0 884.3h1M243.2 888.8h1M242.9 891.8h1M242.1 894.3h1M240.9 896.7h1M237.9 899.2h1M234.9 900.5h1M231.9 900.8h1M229.5 901.4h1M225.9 901.1h1M221.8 899.7h1M219.5 897.5h1M218.4 894.7h1M216.5 892.3h1M213.4 890.3h1M209.5 888.7h1M206.9 885.7h1M204.5 882.3h1M201.3 880.7h1M198.6 879.6h1M196.0 880.0h1M193.5 878.4h1M191.3 876.4h1M188.2 875.3h1M184.7 873.5h1M184.0 869.9h1M183.9 866.4h1M182.4 863.8h1M180.3 861.1h1M179.4 858.8h1M180.0 855.7h1M181.5 852.7h1M183.3 850.5h1M184.5 847.1h1M185.8 845.0h1M188.9 843.5h1M191.0 841.6h1M193.0 838.3h1M193.8 835.5h1M195.1 832.7h1M196.3 829.8h1M198.6 828.7h1M201.0 829.2h1M203.5 830.7h1M206.4 833.8h1M210.5 835.5h1M212.7 836.6h1M216.3 839.0h1M217.5 843.0h1M218.4 846.9h1M217.4 851.2h1M216.1 854.3h1M214.2 856.9h1M213.0 859.0h1M213.0 863.4h1M211.7 867.6h1M209.9 869.8h1M209.7 873.3h1M210.2 876.5h1M210.6 879.2h1M210.3 882.2h1M211.7 886.2h1M210.3 889.6h1M209.2 892.9h1M207.4 896.0h1M206.0 898.7h1M203.4 900.7h1M200.8 901.7h1M197.9 901.7h1M195.2 902.0h1M191.9 901.9h1M187.8 900.8h1M185.9 897.1h1M185.4 893.8h1M184.8 889.5h1M186.4 885.9h1M187.2 882.1h1M188.4 878.9h1M189.9 876.5h1M191.5 872.6h1M192.7 869.4h1M194.1 867.0h1M194.0 863.6h1M194.2 859.4h1M192.2 856.9h1M188.4 856.3h1M185.0 854.3h1M182.7 853.0h1M180.5 850.9h1M177.9 847.4h1M173.6 846.8h1M171.4 845.3h1M167.9 843.1h1M163.9 841.7h1M159.8 840.9h1M158.2 843.4h1M158.7 847.4h1M158.3 851.2h1M160.4 854.6h1M161.5 857.0h1M162.1 861.2h1M164.4 864.8h1M167.4 866.9h1M170.7 867.4h1M173.6 866.8h1M176.7 865.9h1M178.9 864.5h1M180.7 862.9h1M182.9 859.1h1M186.6 857.4h1M189.1 856.3h1M191.3 854.6h1M193.6 850.9h1M196.3 847.8h1M199.1 844.6h1M201.8 843.0h1M204.2 841.7h1M208.2 840.8h1M211.3 839.5h1M213.6 835.8h1M214.8 832.2h1M214.3 828.4h1M211.6 825.2h1M209.7 822.8h1M207.8 820.9h1M205.5 819.4h1" stroke="#3A3A3A" stroke-width="1.3" stroke-opacity="1.0" fill="none"/>
<path d="M485.1 883.1h1M533.0 897.4h1M505.7 910.9h1M533.2 942.7h1M533.7 948.7h1M522.5 920.3h1M518.1 900.9h1M472.2 898.8h1M495.9 916.8h1M484.4 933.6h1M501.1 931.3h1M515.9 849.2h1M494.0 953.8h1M533.2 948.3h1M496.3 953.3h1M505.8 958.2h1M474.9 953.7h1M480.8 928.1h1M508.5 923.9h1M490.2 879.3h1M526.1 934.4h1M543.2 866.6h1M541.9 856.1h1M483.6 900.3h1M500.7 851.0h1M508.8 915.8h1M495.1 946.9h1M547.4 862.7h1M474.4 906.1h1M502.9 844.1h1M521.8 848.8h1M492.4 847.5h1M483.6 907.5h1M477.6 931.9h1M517.2 903.3h1M528.3 865.2h1M501.1 884.1h1M554.2 920.7h1M521.4 863.9h1M499.7 930.5h1M535.8 846.2h1M526.3 932.2h1M543.6 902.8h1M537.1 848.9h1M535.3 866.1h1M471.9 901.6h1M545.0 866.8h1M530.5 916.2h1M517.8 918.3h1M550.3 885.8h1M540.7 879.2h1M487.2 837.1h1M485.3 941.1h1M494.1 837.9h1M516.6 897.6h1M500.5 906.4h1M524.6 865.9h1M512.1 957.6h1M531.1 929.8h1M463.6 903.1h1M490.6 863.6h1M493.7 934.7h1M518.3 863.0h1M529.4 877.6h1M507.6 910.3h1M472.4 935.7h1M520.7 865.9h1M454.0 899.7h1M504.7 847.5h1M497.3 922.6h1M517.6 865.0h1M517.2 873.4h1M512.8 841.2h1M525.1 874.3h1M474.4 930.8h1M470.3 895.4h1M516.9 860.1h1M497.0 838.1h1M468.1 889.2h1M534.7 904.8h1M510.0 924.6h1M477.4 909.9h1M505.9 869.4h1M541.7 866.1h1M551.7 891.1h1M474.4 933.5h1M549.8 884.2h1M471.3 938.4h1M522.4 942.8h1M526.5 884.7h1M539.4 929.0h1M497.3 900.1h1M511.4 852.9h1M490.4 880.0h1M532.1 852.5h1M462.4 889.9h1M476.4 912.4h1M484.0 942.2h1M473.2 860.8h1M470.2 881.3h1M478.4 897.7h1M497.8 878.5h1M455.4 898.3h1M500.0 880.1h1M481.6 899.3h1M513.1 840.3h1M509.0 912.1h1M492.5 918.0h1M494.3 936.5h1M520.6 879.7h1M496.0 892.1h1M549.6 875.0h1M484.6 889.5h1M552.8 871.1h1M504.7 883.6h1M527.6 875.8h1M493.3 946.3h1M522.5 896.7h1M494.0 942.1h1M505.2 852.1h1M475.2 864.7h1M473.8 949.8h1M532.8 922.4h1M554.7 913.4h1M530.6 899.0h1M464.3 883.3h1M472.9 883.6h1M542.2 933.0h1M543.2 907.6h1M554.8 903.2h1M487.0 886.6h1M506.2 864.2h1M537.4 867.6h1M463.5 910.4h1M503.9 857.7h1M509.2 956.9h1M537.0 908.9h1M459.4 871.2h1M481.8 955.9h1M496.5 906.5h1M537.8 931.4h1M487.6 841.9h1M514.5 887.8h1M503.4 841.6h1M532.4 934.8h1M500.2 945.4h1M514.8 930.3h1M551.5 892.6h1M486.2 919.0h1M519.3 920.0h1M517.9 861.6h1M518.0 961.4h1M535.6 916.6h1M491.5 916.9h1M538.6 906.1h1M460.1 915.3h1M466.5 920.6h1M488.1 950.7h1M459.7 879.6h1M512.4 863.3h1M488.3 931.7h1M498.8 959.0h1M483.8 868.3h1M471.8 922.5h1M502.6 958.4h1M545.7 878.7h1M518.4 958.5h1M500.3 903.1h1M494.5 948.9h1M519.4 853.5h1M487.8 862.7h1M530.1 877.6h1M501.3 938.5h1M527.5 843.9h1M487.2 859.4h1M524.7 917.3h1M505.4 953.1h1M531.3 846.3h1M474.1 916.4h1M515.7 917.9h1M537.2 938.1h1M494.0 951.7h1M478.6 855.6h1M509.8 903.8h1M515.8 916.6h1M537.7 845.1h1M502.1 947.3h1M494.1 868.2h1M511.5 885.1h1M505.0 852.7h1M484.2 872.3h1M485.4 907.2h1M493.4 848.2h1M490.4 919.8h1M509.9 834.0h1M497.2 868.5h1M543.7 937.1h1M537.5 898.3h1M490.5 868.3h1M459.2 908.8h1M475.7 870.3h1M495.3 877.4h1M457.2 912.4h1M532.5 932.9h1M470.0 875.9h1M497.4 937.9h1M456.7 900.3h1M547.0 905.3h1M519.6 893.0h1M526.3 953.7h1M545.9 893.9h1M513.0 864.6h1M497.3 907.4h1M495.4 893.3h1M509.2 920.6h1M532.7 899.5h1M466.5 901.9h1M528.6 910.4h1M526.5 949.8h1M541.3 915.5h1M472.3 885.8h1M488.0 861.5h1M531.1 889.1h1M507.1 946.4h1M519.1 870.4h1M479.5 879.7h1M543.8 900.2h1M477.2 938.9h1M536.0 891.9h1M500.2 842.8h1M489.9 864.4h1M489.6 838.9h1M525.5 890.5h1M465.9 888.1h1M526.5 926.8h1M539.9 910.4h1M488.9 889.7h1M519.3 931.9h1M527.0 885.8h1M549.2 888.0h1M462.0 877.4h1M469.0 862.4h1M540.6 942.4h1M518.0 859.7h1M467.1 923.8h1M506.9 833.6h1M471.3 920.1h1M518.0 852.5h1M536.9 933.6h1M514.7 895.9h1M485.8 843.4h1M486.0 934.3h1M465.9 930.5h1M509.8 921.4h1M467.9 897.2h1M537.5 866.1h1M458.8 908.9h1M485.0 943.5h1M464.3 912.3h1M460.8 932.2h1M480.7 915.2h1M469.7 895.3h1M495.8 837.9h1M498.1 854.9h1M546.2 905.1h1M541.1 879.2h1M473.6 951.7h1M464.3 920.2h1M458.5 894.5h1M513.5 891.3h1M538.1 907.1h1M531.3 849.5h1M495.8 874.3h1M459.3 887.4h1M463.2 936.4h1M459.8 887.5h1M491.6 845.4h1M478.6 909.9h1M522.2 887.1h1M458.2 873.9h1M471.8 910.9h1M548.3 861.9h1M548.7 905.4h1M547.7 859.1h1M497.0 899.4h1M536.4 941.8h1M489.9 845.5h1M505.0 947.7h1M484.0 902.7h1M481.9 892.4h1M556.4 883.6h1M491.5 861.4h1M460.9 917.0h1M474.5 846.8h1M491.1 872.8h1M513.7 911.5h1M498.0 906.9h1M521.4 936.1h1M541.5 936.9h1M481.5 950.5h1M514.2 917.8h1M486.2 915.6h1M514.7 842.7h1M470.0 900.7h1M491.9 897.9h1M492.4 934.8h1M467.3 866.2h1M485.7 865.3h1M493.6 897.5h1M478.4 907.9h1M531.2 923.1h1M545.0 923.5h1M504.5 941.3h1M519.2 942.9h1M501.3 846.6h1M482.0 903.3h1M516.1 892.3h1M525.2 868.8h1M491.3 922.7h1M506.3 900.2h1M533.3 923.3h1M489.5 903.6h1M471.5 899.3h1M513.1 855.2h1M536.4 945.3h1M515.3 920.1h1M535.3 892.4h1M526.2 906.5h1M475.0 877.6h1M494.2 924.9h1M507.5 922.2h1M496.1 867.4h1M546.6 962.7h1M513.2 893.0h1M529.2 870.0h1M501.4 863.3h1M515.2 903.8h1M497.5 882.7h1M475.3 879.5h1M530.0 888.4h1M530.6 875.8h1M503.9 887.1h1M500.4 917.3h1M464.7 918.3h1M519.4 897.6h1M507.1 892.7h1M519.3 899.0h1M488.7 902.8h1M524.5 906.3h1M506.1 903.2h1M495.7 887.5h1M468.1 895.6h1M525.1 887.8h1M487.6 921.0h1M508.8 901.5h1M514.9 914.8h1M504.7 878.0h1M540.1 897.9h1M490.3 903.5h1M529.2 862.6h1M531.5 893.6h1M545.1 912.5h1M503.5 928.8h1M530.8 888.5h1M510.2 885.5h1M523.7 863.2h1M502.1 846.7h1M517.2 843.6h1M484.7 905.7h1M498.6 887.8h1M486.5 887.9h1M471.0 907.8h1M521.5 915.9h1M504.9 927.9h1M514.7 921.0h1M513.3 898.7h1M490.6 835.3h1M518.3 894.9h1M544.7 848.4h1M522.2 874.5h1M505.5 876.9h1M512.5 897.2h1M522.9 901.0h1M515.0 928.7h1M515.8 894.5h1M530.0 894.4h1M513.7 890.1h1M492.6 826.4h1M519.3 869.8h1M520.1 941.2h1M479.7 920.8h1M503.7 909.4h1M482.1 900.2h1M508.7 932.7h1M547.8 903.9h1M498.5 952.3h1M503.6 897.1h1M507.7 909.5h1M519.7 883.8h1M503.6 943.9h1M537.2 907.6h1M511.1 892.6h1M525.9 885.0h1M508.2 887.4h1M493.5 900.0h1M505.9 884.5h1M504.5 900.2h1M496.6 883.2h1M503.1 915.6h1M527.6 902.0h1M500.5 898.1h1M543.4 918.8h1M487.2 898.2h1M495.4 890.3h1M472.8 900.9h1M479.2 885.7h1M535.7 921.2h1M488.8 874.5h1M487.9 854.0h1M486.6 893.0h1M485.3 917.8h1M504.9 885.8h1M540.3 914.0h1M507.3 943.2h1M531.7 880.3h1M512.2 887.7h1M477.6 945.9h1M535.4 866.4h1M515.6 858.4h1M527.0 896.3h1M500.2 929.3h1M506.1 892.3h1M523.9 890.4h1M523.1 897.8h1M522.2 913.0h1M521.5 873.4h1M543.1 892.9h1M540.7 882.4h1M500.5 892.5h1M528.8 887.1h1M514.1 860.1h1M496.4 904.5h1M503.8 853.1h1M515.8 874.6h1M544.4 892.1h1M550.7 912.6h1M515.1 886.5h1M503.6 909.8h1M467.2 924.8h1M482.6 893.5h1M451.5 912.4h1M520.8 904.8h1M512.3 889.2h1M508.9 928.0h1M497.4 911.3h1M520.4 892.2h1M510.6 903.7h1M496.0 958.7h1M497.3 941.0h1M527.2 847.7h1M510.9 923.6h1M522.2 875.6h1M511.1 868.9h1M485.1 893.7h1M509.6 937.8h1M513.0 924.3h1M481.9 871.4h1M496.1 942.1h1M479.1 861.0h1M504.3 927.9h1M473.2 893.9h1M478.6 935.5h1M519.7 904.6h1M504.9 892.8h1M508.6 882.4h1M488.1 872.0h1M506.1 878.9h1M523.4 845.8h1M517.2 911.1h1M530.2 891.1h1M475.6 877.2h1M528.5 889.8h1M497.5 884.4h1M504.5 892.9h1M474.5 885.2h1M526.0 933.2h1M503.3 885.8h1M533.0 892.7h1M482.1 896.5h1M519.7 936.2h1M495.9 912.2h1M499.1 926.9h1M510.9 904.6h1M485.9 891.5h1M499.2 809.8h1M522.9 897.3h1M501.5 889.7h1M506.2 904.3h1M479.4 902.8h1M508.0 898.9h1M506.3 900.4h1M507.1 904.2h1M506.8 907.9h1M507.2 911.8h1M507.1 915.5h1M507.5 917.9h1M508.7 920.5h1M511.1 923.8h1M513.2 925.0h1M516.1 927.4h1M518.8 929.2h1M522.1 931.4h1M524.7 934.2h1M526.9 934.9h1M530.4 936.7h1M532.8 935.8h1M535.3 934.0h1M536.6 931.5h1M536.4 927.5h1M535.9 923.5h1M535.8 919.7h1M535.9 916.1h1M536.6 912.6h1M537.7 908.8h1M536.6 904.9h1M534.2 901.7h1M532.7 899.3h1M531.6 897.3h1M529.8 893.6h1M527.9 889.9h1M527.3 886.6h1M526.4 884.1h1M526.2 880.1h1M526.1 877.2h1M527.7 874.3h1M527.5 871.0h1M527.0 868.3h1M526.5 865.5h1M527.3 863.3h1M528.5 859.4h1M529.9 857.2h1M533.2 855.1h1M535.7 855.3h1M538.3 856.4h1M539.6 859.1h1M538.5 863.0h1M537.9 866.5h1M535.1 868.1h1M532.3 869.6h1M530.1 871.2h1M527.9 872.8h1M526.1 875.0h1M524.7 877.9h1M523.4 880.0h1M521.0 883.3h1M519.9 886.4h1M520.8 889.4h1M520.8 893.2h1M519.9 895.7h1M520.1 898.2h1M519.9 901.1h1M519.0 904.2h1M518.9 907.4h1M518.4 909.9h1M519.7 913.1h1M523.2 914.5h1M525.6 917.5h1M527.3 920.6h1M529.1 923.1h1M530.0 925.4h1M531.6 928.0h1M533.7 930.4h1M536.1 931.0h1M539.7 930.9h1M543.5 929.9h1M547.4 928.5h1M547.3 925.5h1M545.3 923.0h1M543.5 920.7h1M541.0 918.7h1M538.5 916.1h1M536.9 914.5h1M534.1 912.1h1M530.0 911.8h1M526.9 911.0h1M524.9 909.3h1M524.1 905.3h1M524.1 902.1h1M525.2 899.3h1M527.2 896.6h1M528.8 894.9h1M530.9 892.1h1M531.9 888.6h1M533.1 884.9h1M532.9 882.3h1M531.9 880.2h1M531.1 876.8h1M531.4 873.0h1M532.0 870.8h1M531.4 867.0h1M529.5 863.9h1M528.0 861.9h1M526.2 859.0h1M525.1 856.6h1M523.4 855.0h1M520.5 854.9h1M517.7 854.4h1M514.7 854.1h1M512.1 855.1h1M508.8 857.1h1M506.6 858.4h1M505.0 861.3h1M501.7 863.1h1M499.8 866.8h1M499.9 870.1h1M499.2 872.6h1M496.8 875.8h1M496.1 879.2h1M495.3 882.8h1M493.7 886.6h1M495.1 890.3h1M496.4 893.4h1M495.2 896.9h1M493.8 899.4h1M491.8 901.2h1M489.1 903.2h1M487.6 905.6h1M485.9 907.4h1M485.6 910.2h1M483.8 911.7h1M481.6 914.2h1M478.1 914.0h1M475.6 914.4h1M472.5 915.1h1M470.3 916.3h1M468.0 917.5h1M465.2 918.8h1M461.5 918.2h1M459.2 915.2h1M459.9 913.0h1M462.1 910.6h1M465.8 909.1h1M469.4 907.8h1M472.9 906.4h1M476.8 906.0h1M479.4 905.7h1M483.0 905.4h1M486.2 905.4h1M488.6 904.6h1M491.4 903.5h1M493.9 902.0h1M496.2 902.0h1M498.7 902.7h1M502.8 903.4h1M506.8 903.9h1M509.7 904.3h1M512.4 904.0h1M516.3 904.0h1M518.7 903.7h1M521.2 904.1h1M523.1 902.2h1M525.4 900.7h1M528.6 899.1h1M531.6 897.8h1M533.7 894.3h1M534.7 891.5h1M537.1 889.3h1M539.9 888.0h1M543.3 886.7h1M545.3 883.8h1M545.5 880.3h1M543.0 877.3h1M540.7 875.8h1M538.0 873.7h1M534.4 873.1h1M531.9 873.0h1M528.4 870.8h1M526.6 868.2h1M522.9 866.8h1M519.1 867.1h1M516.5 867.3h1M512.8 867.8h1M510.3 869.1h1M508.1 872.1h1M506.4 875.8h1M504.8 879.1h1M503.0 881.2h1M502.2 884.3h1M500.9 888.2h1M500.3 891.7h1M500.6 895.5h1M500.0 898.0h1M499.7 901.9h1M499.5 904.4h1M501.2 907.5h1M504.5 909.1h1M506.7 910.8h1M509.3 913.2h1M512.5 914.9h1M515.0 917.5h1M517.0 919.0h1M519.7 920.9h1M522.7 921.8h1M526.9 922.2h1M529.8 924.6h1M532.4 925.4h1M535.7 925.0h1M537.8 923.2h1M538.5 920.6h1M538.7 917.4h1M538.3 915.0h1M536.5 912.6h1M534.4 911.1h1M531.9 908.3h1M529.1 906.4h1M527.7 902.6h1M526.5 899.8h1M526.8 896.0h1M529.3 893.2h1M532.1 891.7h1M534.8 890.3h1M537.6 888.9h1M539.2 886.9h1M540.9 885.1h1M544.5 885.0h1M545.3 888.0h1M543.6 891.8h1M541.3 893.9h1M538.5 896.4h1M535.2 898.0h1M532.1 898.1h1M528.3 899.6h1M526.4 902.5h1M525.7 905.3h1M523.8 908.4h1M521.5 910.2h1M519.9 913.5h1M519.1 916.6h1M519.0 920.6h1M520.0 923.1h1M521.8 926.7h1M522.5 929.7h1M522.8 933.4h1M523.2 936.1h1M526.8 938.0h1M529.0 937.2h1M531.3 936.3h1M533.0 933.9h1M533.4 931.1h1M533.5 927.9h1M533.2 924.2h1M531.1 920.7h1M528.5 918.9h1M527.9 916.7h1M528.3 914.4h1M529.8 912.4h1M532.8 911.1h1M536.3 910.7h1M539.0 911.4h1M542.9 912.2h1M546.1 913.6h1M546.8 915.8h1M545.1 918.6h1M542.0 920.5h1M539.0 920.6h1M535.2 919.7h1M531.5 918.7h1M528.5 919.4h1M525.8 919.4h1M523.6 917.6h1M521.8 914.6h1M520.7 912.2h1M520.4 909.9h1M519.1 907.4h1M517.9 904.6h1M517.5 900.9h1M517.5 898.3h1M519.8 895.0h1M522.4 892.9h1M524.5 889.9h1M527.1 888.4h1M529.9 886.5h1M532.9 885.7h1M536.5 887.2h1M539.4 887.8h1M542.5 887.6h1M544.5 889.0h1M545.4 891.6h1M546.0 894.4h1M544.6 898.1h1M543.5 900.1h1M540.6 901.3h1M537.2 902.2h1M534.2 901.7h1M530.3 900.7h1M527.7 901.6h1M526.1 904.9h1M524.5 907.4h1M522.1 910.1h1M519.5 913.2h1M515.9 914.6h1M513.7 916.0h1M510.4 918.0h1M507.6 920.3h1M504.9 923.1h1M502.3 924.3h1M499.9 927.2h1M499.7 929.5h1M499.1 931.9h1M499.5 934.4h1M500.3 937.0h1M499.4 940.6h1M496.0 942.8h1M492.8 945.1h1M489.4 945.3h1M485.9 944.5h1M482.3 943.3h1M480.3 941.8h1M478.8 938.5h1M477.3 935.8h1M476.7 931.8h1M476.9 928.4h1M476.5 926.1h1M475.4 922.4h1M472.6 921.1h1M470.9 917.5h1M471.5 914.6h1M472.5 911.6h1M475.4 909.5h1M477.3 907.3h1M478.1 905.0h1M477.8 901.9h1M476.2 899.7h1M474.4 896.6h1M473.3 892.7h1M473.0 890.2h1M473.2 886.7h1M474.3 884.3h1M474.0 880.6h1M475.5 877.2h1M479.1 876.1h1M482.5 878.3h1M484.7 881.2h1M485.6 883.7h1M487.1 886.0h1M488.7 889.5h1M489.2 892.4h1M490.8 894.7h1M492.5 897.4h1M493.8 900.9h1M495.1 904.3h1M497.2 906.7h1M499.4 908.2h1M502.6 909.8h1M504.8 908.3h1M507.5 905.7h1M510.5 904.8h1M514.4 903.7h1M518.0 903.7h1M520.4 900.9h1M522.6 898.7h1M524.0 896.7h1M525.7 894.5h1M526.2 892.2h1M526.2 889.7h1M525.6 886.8h1M525.7 884.0h1M526.6 880.8h1M527.9 878.0h1M528.5 874.3h1M526.2 872.5h1M522.8 871.0h1M519.4 869.0h1M516.5 867.1h1M514.7 865.7h1M511.5 863.8h1M508.4 861.1h1M505.8 859.1h1M502.9 858.8h1M498.9 857.7h1M496.4 858.5h1M493.7 860.9h1M493.4 864.4h1M492.0 867.8h1M491.3 870.2h1M489.7 872.9h1M488.1 874.7h1M487.8 877.6h1M489.8 881.2h1M491.4 884.8h1M492.9 886.6h1M496.5 886.2h1M499.2 885.8h1M502.0 883.7h1M504.9 882.2h1M507.1 881.5h1M509.7 881.0h1M513.7 881.1h1M516.6 881.0h1M520.3 881.6h1M523.8 881.0h1M526.4 878.6h1M529.5 877.1h1M532.4 875.2h1M535.2 874.3h1M537.9 872.5h1M540.6 871.2h1M542.7 871.9h1M545.7 874.5h1M544.7 878.2h1M543.0 881.4h1M541.0 883.5h1M537.9 885.6h1M535.0 888.5h1M534.2 890.6h1M534.1 893.0h1M534.1 896.3h1M532.9 899.5h1M534.2 903.3h1M534.6 905.9h1M535.3 908.8h1M534.1 911.9h1M533.1 914.0h1M532.1 916.2h1M529.7 917.2h1M527.5 919.2h1M525.8 920.8h1M523.4 922.0h1M520.7 923.3h1M517.0 924.4h1M514.7 924.4h1M510.8 923.4h1M508.0 924.7h1M505.8 924.6h1M502.6 923.1h1M499.3 922.1h1M497.3 920.7h1M496.2 918.3h1M495.9 916.0h1M495.4 913.5h1M495.5 911.2h1M496.8 908.5h1M499.2 905.9h1M501.7 903.3h1M504.4 901.4h1M507.8 900.1h1M511.5 898.4h1M514.0 897.7h1M516.2 898.6h1M518.2 902.3h1M503.2 899.0h1M500.3 901.2h1M498.4 904.1h1M495.9 906.3h1M494.1 908.9h1M492.7 911.5h1M492.2 915.2h1M491.5 919.2h1M490.7 921.5h1M489.7 923.9h1M489.6 926.5h1M489.6 928.8h1M488.9 931.7h1M487.6 934.9h1M486.8 937.1h1M486.4 939.5h1M485.5 942.4h1M486.6 945.6h1M489.9 947.9h1M492.8 948.8h1M496.4 949.5h1M499.9 951.0h1M502.1 951.7h1M504.8 950.8h1M506.3 949.2h1M508.4 946.8h1M509.4 944.1h1M510.2 941.8h1M511.3 939.1h1M511.9 935.4h1M512.7 932.8h1M513.3 930.0h1M516.0 927.0h1M517.1 924.9h1M520.2 923.1h1M522.0 920.5h1M524.4 918.9h1M526.4 917.4h1M528.2 915.2h1M530.3 912.9h1M532.6 910.5h1M534.3 908.4h1M535.3 904.7h1M535.1 901.3h1M534.4 899.0h1M534.1 896.6h1M536.2 893.4h1M537.8 890.4h1M538.2 886.9h1M537.5 884.3h1M538.2 880.7h1M537.1 877.6h1M535.1 874.8h1M534.1 872.8h1M532.4 869.6h1M530.2 868.1h1M526.9 866.4h1M523.8 865.3h1M521.0 865.7h1M518.1 867.1h1M515.4 869.9h1M512.4 872.2h1M510.9 873.9h1M509.3 875.8h1M507.4 879.0h1M507.8 882.4h1M507.4 886.3h1M507.4 889.3h1M506.2 891.8h1M504.9 893.8h1M502.2 895.3h1M499.9 897.5h1M497.1 899.7h1M495.4 901.2h1M493.7 903.0h1M492.1 904.9h1M488.8 905.9h1M485.0 905.0h1M481.1 903.9h1M478.5 902.2h1M476.2 900.4h1M474.3 898.9h1M473.6 896.1h1M472.8 892.3h1M472.3 889.5h1M471.9 886.5h1M471.8 883.2h1M472.0 881.0h1M473.5 878.5h1M476.8 876.4h1M478.4 874.2h1M478.7 871.8h1M479.6 869.7h1M480.1 866.0h1M480.8 862.0h1M480.8 858.4h1M483.4 855.8h1M485.9 854.3h1M488.2 851.0h1M491.3 848.5h1M493.6 847.8h1M495.6 845.7h1M498.1 843.9h1M500.6 844.2h1M503.1 845.6h1M504.6 849.3h1M504.5 851.8h1M504.8 855.0h1M504.7 857.4h1M502.6 860.1h1M501.2 862.0h1M498.6 864.8h1M495.5 867.3h1M494.2 869.5h1M493.1 871.8h1M491.9 874.3h1M491.0 877.6h1M490.5 880.0h1M488.8 883.2h1M486.9 886.6h1M485.9 890.2h1M484.2 893.7h1M482.7 896.6h1M480.5 897.9h1M477.4 899.1h1M475.1 900.5h1M472.6 903.8h1M470.5 905.9h1M466.9 905.4h1M464.5 906.3h1M460.7 907.9h1M459.1 910.2h1M456.6 913.0h1M455.8 915.6h1M457.1 919.3h1M460.4 921.6h1M463.4 922.8h1M465.8 923.2h1M468.3 923.7h1M470.6 923.4h1M473.5 921.9h1M476.3 919.4h1M478.3 918.3h1M480.6 916.5h1M482.5 914.2h1M485.0 912.2h1M485.2 909.3h1M484.6 907.0h1M483.1 903.9h1M481.0 902.7h1M478.8 900.3h1M476.0 898.6h1M473.0 896.3h1M470.6 893.0h1M469.0 890.5h1M467.0 889.0h1M464.4 886.9h1M462.4 885.7h1M458.6 884.2h1M456.0 884.1h1M453.2 882.6h1M454.0 880.1h1M457.7 878.5h1M461.7 877.6h1M464.3 878.4h1M467.5 879.0h1M471.4 880.1h1M474.0 880.9h1M477.0 883.7h1M479.1 886.1h1M482.0 888.5h1M484.3 891.4h1M486.0 894.7h1M486.3 898.3h1M486.2 900.6h1M485.9 904.3h1M486.4 908.2h1M485.7 911.6h1M485.5 914.4h1M486.1 917.7h1M485.9 921.1h1M486.3 923.6h1M485.8 927.1h1M486.5 929.3h1M487.7 932.3h1M488.1 935.0h1M488.0 938.4h1M486.9 941.7h1M486.4 945.5h1M484.8 948.9h1M482.6 950.3h1M480.1 951.4h1M478.1 950.2h1M476.6 947.2h1M476.4 943.6h1M476.1 941.2h1M475.3 937.5h1M475.1 934.1h1M474.6 931.3h1M475.3 927.9h1M476.0 924.3h1M477.4 921.6h1M478.7 919.6h1M480.6 916.5h1M483.1 913.5h1M483.2 911.3h1M484.0 908.9h1M484.5 906.3h1M486.2 902.7h1M485.8 899.1h1M485.8 895.8h1M486.7 893.3h1M488.3 890.8h1M487.8 888.4h1M486.9 884.4h1M487.4 882.2h1M488.9 880.4h1M491.2 877.7h1M493.4 874.4h1M496.1 872.4h1M498.7 871.5h1M501.1 869.1h1M503.9 866.4h1M506.8 866.1h1M509.2 865.9h1M513.1 865.4h1M516.9 865.3h1M519.6 866.9h1M522.3 869.5h1M525.4 870.9h1M528.8 872.5h1M531.7 875.2h1M531.4 877.6h1M531.8 880.2h1M530.8 883.9h1M530.0 886.1h1M530.6 889.2h1M528.5 891.6h1M526.7 894.7h1M527.0 897.3h1M526.4 901.3h1M526.5 905.1h1M526.5 909.3h1M525.5 911.9h1M523.6 914.0h1M521.4 914.3h1M519.2 915.7h1M517.0 918.1h1M514.3 920.3h1M511.6 921.0h1" stroke="#B04444" stroke-width="1.3" stroke-opacity="1.0" fill="none"/>
<path d="M489.4 879.9h1M573.0 899.6h1M490.4 871.4h1M512.1 919.4h1M542.3 946.8h1M524.8 845.2h1M595.1 916.1h1M541.4 941.4h1M437.4 905.5h1M481.2 955.5h1M451.2 902.9h1M572.1 902.5h1M486.9 982.2h1M444.6 937.2h1M493.9 923.1h1M491.7 868.0h1M513.6 840.8h1M527.8 877.3h1M545.3 866.1h1M473.9 925.1h1M559.3 794.2h1M509.3 922.6h1M440.4 883.3h1M532.7 854.6h1M475.4 979.1h1M461.8 876.9h1M400.4 887.9h1M448.8 987.9h1M558.4 827.8h1M591.9 900.7h1M495.8 934.6h1M520.9 861.0h1M425.2 887.2h1M503.6 883.7h1M470.8 949.8h1M456.2 951.2h1M482.3 910.1h1M453.7 914.8h1M468.8 837.9h1M502.9 896.5h1M540.9 897.6h1M458.4 888.2h1M392.6 889.3h1M561.8 941.5h1M537.9 899.4h1M530.0 909.6h1M426.1 888.2h1M556.8 929.3h1M514.5 881.8h1M486.5 881.6h1M462.2 832.4h1M510.4 877.3h1M494.1 972.5h1M530.2 860.3h1M529.7 827.2h1M550.8 893.4h1M495.0 924.9h1M569.0 857.1h1M459.4 1000.8h1M504.4 960.0h1M473.3 924.1h1M474.9 934.2h1M491.2 874.6h1M573.3 889.0h1M412.5 919.1h1M462.4 861.4h1M477.4 887.2h1M505.1 864.7h1M419.9 904.0h1M543.1 828.1h1M531.4 907.9h1M483.4 917.8h1M469.8 892.9h1M457.6 933.0h1M565.2 849.2h1M463.6 869.4h1M581.1 847.5h1M538.6 800.9h1M508.6 920.0h1M511.5 929.3h1M563.1 894.8h1M427.2 915.0h1M544.3 850.2h1M529.0 869.6h1M507.6 928.4h1M510.3 910.2h1M469.9 912.0h1M491.3 841.1h1M434.1 933.4h1M406.3 917.8h1M500.3 924.6h1M447.3 941.8h1M489.5 881.5h1M497.0 941.6h1M528.7 926.9h1M472.2 896.7h1M450.7 892.6h1M485.4 884.6h1M535.8 905.1h1M537.9 891.9h1M552.1 886.5h1M547.3 904.5h1M536.8 884.1h1M447.2 856.4h1M592.3 884.6h1M523.6 884.4h1M452.6 912.6h1M501.1 851.4h1M445.7 888.0h1M487.8 883.0h1M540.3 836.2h1M521.8 953.6h1M544.0 836.7h1M526.0 866.0h1M561.6 861.6h1M508.3 852.9h1M517.9 875.2h1M480.6 951.1h1M513.2 832.1h1M534.8 922.7h1M465.7 894.3h1M505.9 886.8h1M509.1 923.5h1M481.1 993.0h1M471.1 886.3h1M592.8 968.2h1M505.1 889.7h1M454.7 962.4h1M511.3 860.0h1M521.9 949.5h1M534.6 980.4h1M556.1 898.9h1M501.9 921.7h1M558.7 915.6h1M551.3 891.4h1M538.2 937.5h1M495.9 846.2h1M581.8 896.3h1M483.5 914.6h1M492.2 830.3h1M495.1 841.1h1M512.6 890.4h1M554.9 875.8h1M520.4 879.9h1M486.2 845.3h1M548.4 890.2h1M477.0 915.7h1M484.6 874.0h1M514.7 945.3h1M491.2 842.4h1M475.5 982.9h1M466.6 960.3h1M492.6 932.8h1M498.6 833.5h1M484.7 993.1h1M497.5 923.8h1M488.2 897.7h1M518.1 913.1h1M604.2 863.7h1M495.3 873.1h1M443.9 850.6h1M533.6 809.9h1M567.3 912.8h1M490.1 854.2h1M504.8 898.7h1M554.7 849.9h1M486.4 901.7h1M491.0 876.2h1M425.7 855.5h1M472.9 899.1h1M548.9 979.9h1M581.4 888.7h1M588.8 864.7h1M479.7 1003.3h1M455.2 897.1h1M491.7 963.5h1M476.6 940.1h1M485.1 853.1h1M514.3 901.7h1M451.2 879.5h1M467.6 950.8h1M524.6 901.2h1M525.9 870.8h1M525.3 865.6h1M443.2 889.1h1M513.2 898.8h1M551.7 811.3h1M493.7 918.2h1M460.0 923.4h1M485.1 857.1h1M554.6 822.9h1M549.1 865.7h1M461.1 875.5h1M470.3 874.0h1M516.0 815.8h1M560.0 914.5h1M566.7 835.9h1M398.6 907.5h1M496.2 913.6h1M480.3 902.7h1M510.6 831.1h1M585.8 823.7h1M515.8 939.6h1M468.3 910.4h1M578.0 861.7h1M551.3 894.7h1M514.3 925.0h1M493.4 893.2h1M547.6 894.8h1M526.6 840.7h1M504.8 949.1h1M544.8 899.2h1M480.6 880.7h1M523.9 951.3h1M506.0 952.6h1M490.5 953.5h1M458.8 921.6h1M455.7 942.5h1M530.1 850.0h1M470.4 891.3h1M436.6 882.4h1M464.9 944.5h1M566.9 858.8h1M491.1 911.9h1M480.5 894.8h1M542.1 895.4h1M500.3 875.8h1M570.8 850.4h1M509.6 853.4h1M477.2 911.5h1M486.2 926.9h1M507.2 839.5h1M399.5 975.4h1M477.6 969.4h1M504.7 866.3h1M529.4 878.6h1M504.7 859.4h1M533.0 934.7h1M480.3 981.3h1M478.3 917.6h1M429.9 842.8h1M599.3 926.2h1M556.1 809.8h1M514.3 912.6h1M507.6 909.7h1M462.4 905.7h1M452.4 901.2h1M520.9 860.0h1M491.4 884.6h1M504.7 936.8h1M514.7 911.4h1M438.7 905.1h1M541.0 849.9h1M484.3 864.4h1M564.4 859.1h1M470.9 935.4h1M553.7 902.4h1M548.4 892.3h1M498.0 881.9h1M480.8 881.1h1M520.5 888.0h1M507.8 922.4h1M501.4 841.8h1M467.9 863.5h1M417.4 931.7h1M449.4 862.8h1M454.9 951.3h1M489.7 944.9h1M499.7 881.4h1M529.4 914.7h1M508.9 853.1h1M483.0 855.7h1M492.0 906.1h1M570.9 934.9h1M534.4 928.0h1M514.1 1011.0h1M572.9 985.9h1M520.9 909.7h1M551.3 890.1h1M517.7 852.1h1M546.2 889.6h1M540.3 876.6h1M423.0 946.3h1M556.4 826.7h1M459.5 900.3h1M492.3 830.6h1M583.2 913.8h1M475.5 831.5h1M519.9 975.9h1M541.0 934.0h1M460.7 922.2h1M435.4 1004.0h1M529.3 801.1h1M419.6 946.4h1M509.7 883.0h1M531.4 973.0h1M520.0 816.8h1M496.2 845.5h1M466.9 924.0h1M495.6 856.0h1M502.1 864.2h1M527.3 879.7h1M520.9 880.8h1M537.1 880.8h1M502.5 874.4h1M509.5 821.3h1M624.1 828.7h1M507.5 876.4h1M480.8 922.2h1M479.8 887.6h1M440.4 880.0h1M449.8 991.2h1M442.3 873.1h1M511.6 954.8h1M425.9 858.6h1M508.5 910.0h1M438.5 843.7h1M459.1 943.7h1M500.7 929.6h1M497.8 897.9h1M530.5 883.3h1M513.3 855.8h1M475.4 926.4h1M491.7 869.9h1M532.4 910.5h1M502.2 865.8h1M543.2 988.7h1M465.2 845.4h1M467.1 870.3h1M445.1 867.2h1M540.9 920.7h1M569.6 906.3h1M480.7 950.3h1M474.6 892.2h1M449.1 966.8h1M548.2 862.6h1M488.2 903.7h1M511.4 929.8h1M505.3 913.2h1M434.2 907.6h1M420.8 999.5h1M565.5 906.2h1M552.6 964.6h1M544.8 816.2h1M492.8 801.7h1M465.1 857.5h1M501.7 913.8h1M459.9 899.5h1M514.7 886.4h1M493.9 799.1h1M481.9 937.2h1M513.6 831.1h1M489.5 912.5h1M457.7 940.3h1M465.5 895.5h1M496.9 992.3h1M487.2 878.1h1M534.3 866.5h1M510.6 799.6h1M515.3 891.8h1M443.2 973.7h1M490.9 892.5h1M442.1 848.9h1M476.0 841.9h1M524.0 926.1h1M472.9 839.2h1M483.8 858.6h1M509.3 902.1h1M482.3 906.7h1M548.9 952.7h1M478.0 935.3h1M490.8 856.3h1M559.8 894.0h1M508.0 909.8h1M494.2 855.3h1M582.2 907.7h1M513.5 933.5h1M559.9 869.0h1M528.2 874.5h1M530.8 876.5h1M612.0 844.9h1M525.0 908.6h1M486.4 941.4h1M497.8 881.0h1M501.6 865.5h1M555.9 905.0h1M546.1 825.3h1M513.8 860.6h1M505.5 949.2h1M513.2 885.7h1M552.4 922.4h1M516.4 874.5h1M461.9 915.2h1M448.8 821.0h1M460.6 899.8h1M586.3 838.3h1M448.5 831.8h1M485.6 892.3h1M508.3 834.1h1M467.0 813.5h1M509.2 828.6h1M524.5 904.1h1M517.5 848.2h1M550.3 836.7h1M588.3 877.4h1M417.8 961.6h1M591.1 856.3h1M550.0 871.9h1M473.1 798.2h1M557.7 859.5h1M518.9 843.7h1M460.4 957.8h1M484.1 886.1h1M444.4 925.1h1M537.0 865.9h1M493.2 848.7h1M565.4 849.7h1M494.6 970.3h1M491.4 835.3h1M459.6 896.2h1M582.9 879.4h1M491.6 935.5h1M561.2 845.3h1M567.2 911.5h1M510.9 953.0h1M489.5 998.9h1M505.4 853.3h1M529.1 900.7h1M540.1 875.2h1M561.6 853.9h1M508.2 842.7h1M465.6 918.3h1M472.2 888.5h1M492.8 911.3h1M537.3 918.2h1M549.1 890.4h1M477.4 838.7h1M486.4 869.1h1M419.2 995.2h1M418.1 940.9h1M527.8 879.0h1M621.0 858.6h1M467.2 984.0h1M465.7 848.9h1M456.2 885.8h1M504.5 911.2h1M432.5 935.9h1M605.0 832.7h1M496.4 929.1h1M557.8 850.5h1M458.1 869.5h1M552.9 918.9h1M402.8 839.9h1M445.5 852.8h1M521.3 900.6h1M592.6 901.1h1M508.0 945.9h1M461.3 851.8h1M503.9 937.0h1M427.8 960.7h1M542.0 862.9h1M510.2 883.2h1M506.2 930.7h1M465.4 954.3h1M542.5 922.7h1M411.6 848.6h1M534.3 861.8h1M470.6 875.6h1M440.5 906.1h1M469.1 880.7h1M524.5 839.7h1M618.1 800.7h1M529.3 927.4h1M502.2 929.3h1M497.4 824.0h1M518.3 941.0h1M476.9 833.6h1M474.6 920.7h1M516.3 940.0h1M528.2 910.5h1M409.9 1023.8h1M504.7 933.6h1M486.4 896.4h1M505.2 963.9h1M572.6 900.4h1M594.3 849.9h1M526.5 870.1h1M562.5 879.1h1M547.9 956.2h1M406.7 1022.8h1M517.4 879.1h1M413.9 914.5h1M396.2 937.3h1M494.9 978.6h1M487.6 948.8h1M556.9 968.1h1M491.3 934.3h1M432.3 873.9h1M490.2 901.1h1M446.5 899.1h1M535.5 867.3h1M495.8 862.0h1M567.2 952.8h1M512.6 889.8h1M580.5 892.5h1M471.9 850.4h1M475.7 1001.6h1M503.0 888.7h1M564.7 866.7h1M520.8 847.3h1M445.3 885.7h1M513.6 865.9h1M411.8 949.2h1M495.6 888.5h1M474.7 810.6h1M577.3 852.5h1M527.8 949.8h1M555.9 889.1h1M503.7 911.1h1M545.6 908.8h1M482.5 924.4h1M520.9 922.1h1M512.9 953.9h1M512.7 933.2h1M505.4 872.7h1M459.3 906.0h1M528.3 944.3h1M499.2 877.1h1M479.7 961.6h1M508.3 874.9h1M537.9 829.6h1M508.8 894.4h1M497.1 850.5h1M549.1 955.2h1M441.7 924.0h1M533.4 985.2h1M484.0 863.8h1M503.2 984.9h1M506.6 908.4h1M402.6 971.0h1M539.5 826.3h1M527.5 891.8h1M513.5 860.1h1M482.3 867.4h1M505.8 887.4h1M581.7 898.9h1M430.2 940.6h1M570.1 887.9h1M554.0 879.7h1M536.2 846.9h1M540.0 826.5h1M563.6 812.8h1M405.0 954.0h1M495.4 905.7h1M523.3 890.3h1M462.2 921.0h1M519.6 913.9h1M595.9 835.4h1M506.6 921.2h1M482.6 853.5h1M477.0 952.8h1M490.9 928.7h1M469.2 928.8h1M472.0 872.4h1M508.7 898.6h1M572.0 805.1h1M527.1 959.6h1M566.8 860.3h1M471.7 887.5h1M517.4 901.6h1M519.7 918.4h1M453.6 866.3h1M446.3 859.5h1M498.8 913.1h1M621.3 881.5h1M504.2 959.0h1M469.2 924.2h1M548.8 916.8h1M522.2 876.8h1M445.6 910.9h1M475.7 937.1h1M497.1 924.4h1M428.5 965.2h1M463.7 844.2h1M439.4 892.6h1M555.7 911.3h1M448.8 920.2h1M498.5 832.3h1M457.3 825.9h1M462.9 797.7h1M466.4 870.3h1M466.3 875.1h1M557.2 865.1h1M514.6 926.8h1M545.3 913.3h1M477.7 859.6h1M467.2 889.9h1M503.7 894.4h1M554.4 876.6h1M586.7 914.4h1M481.0 942.6h1M522.5 908.8h1M491.6 895.9h1M555.7 872.2h1M463.9 939.7h1M456.3 945.8h1M509.8 944.4h1M447.2 970.5h1M517.1 978.3h1M473.2 988.0h1M536.1 921.0h1M469.6 933.4h1M534.5 852.0h1M449.7 883.0h1M571.3 882.0h1M546.9 895.9h1M508.8 905.8h1M484.4 956.9h1M511.5 905.1h1M439.2 932.9h1M472.1 887.1h1M551.5 835.1h1M494.1 928.2h1M556.9 857.9h1M518.2 905.4h1M451.0 823.9h1M414.0 953.9h1M508.2 839.0h1M473.7 890.9h1M486.8 902.4h1M605.8 830.2h1M510.0 862.8h1M474.2 870.1h1M492.7 878.0h1M519.6 901.8h1M462.0 994.3h1M438.7 893.2h1M487.6 839.2h1M527.5 859.4h1M440.1 824.9h1M513.5 867.7h1M394.0 984.8h1M557.1 987.4h1M551.7 961.8h1M524.5 811.2h1M466.8 829.9h1M483.6 837.7h1M470.8 1001.9h1M522.7 917.2h1M568.6 909.1h1M554.0 823.2h1M419.5 932.4h1M586.8 895.4h1M492.0 809.3h1M542.6 981.3h1M526.0 999.8h1M395.9 941.2h1M412.0 927.1h1M457.2 837.8h1M437.8 1014.8h1M555.6 962.0h1M416.7 946.8h1M410.7 952.7h1M518.3 986.6h1M404.3 871.9h1M583.4 818.7h1M469.1 1021.0h1M462.4 800.2h1M534.9 855.5h1M457.6 802.2h1M443.6 864.4h1M478.6 993.2h1M579.7 936.8h1M425.9 797.2h1M395.4 891.3h1M463.2 821.1h1M466.9 882.1h1M571.9 882.4h1M555.4 890.7h1M571.8 865.7h1M484.6 972.7h1M493.4 899.6h1M399.9 872.1h1M393.2 826.0h1M392.2 874.7h1M515.4 875.6h1M558.9 981.7h1M548.8 952.4h1M588.0 852.4h1M518.4 837.0h1M468.8 818.9h1M415.6 896.4h1M489.1 952.8h1M436.0 860.6h1M575.7 796.3h1M458.0 973.7h1M513.8 832.1h1M536.7 815.6h1M455.8 885.3h1M539.1 858.9h1M512.1 802.4h1M622.8 843.4h1M441.7 881.1h1M410.3 1015.6h1M521.8 811.3h1M565.0 800.5h1M395.7 816.9h1M520.8 914.2h1M530.6 1000.1h1M531.8 829.7h1M442.3 938.8h1M493.6 978.5h1M485.5 923.5h1M429.5 910.8h1M483.7 924.4h1M413.4 888.0h1M412.6 923.0h1M417.9 998.1h1M513.3 873.0h1M467.1 894.4h1M432.2 893.8h1M538.5 849.3h1M589.7 894.1h1M427.6 965.8h1M540.6 883.2h1M452.7 989.8h1M509.8 916.7h1M497.8 815.8h1M531.5 877.4h1M528.3 826.7h1M541.6 876.8h1M474.5 871.1h1M583.4 983.8h1M427.7 999.4h1M529.9 969.2h1M452.0 998.3h1M416.1 833.1h1M396.8 999.4h1M454.9 830.0h1M512.2 855.5h1M543.2 974.9h1M465.3 825.9h1M565.3 939.4h1M462.3 1005.9h1M505.3 917.3h1M586.8 916.6h1M483.4 926.8h1M471.2 949.5h1M470.6 1012.9h1M581.1 811.9h1M526.6 794.3h1M497.0 808.4h1M551.9 839.4h1M491.7 1000.5h1M528.2 865.5h1M434.2 931.3h1M412.4 865.0h1M454.0 837.3h1M425.4 883.8h1M559.3 842.1h1M483.5 810.0h1M414.3 839.4h1M473.8 798.4h1M626.2 871.9h1M583.0 795.7h1M433.8 934.7h1M527.3 903.0h1M405.5 951.6h1M403.6 875.8h1M388.6 940.1h1M411.9 884.6h1M414.0 994.6h1M563.1 868.1h1M542.6 844.2h1M441.1 835.8h1M488.9 851.9h1M622.1 847.9h1M439.8 913.0h1M404.7 878.6h1M414.6 839.9h1M450.7 870.2h1M396.0 904.2h1M550.0 1013.6h1M465.3 1010.7h1M426.9 916.9h1M448.2 948.3h1M448.6 950.6h1M478.0 802.6h1M447.0 817.6h1M448.5 1010.7h1M408.2 982.3h1M593.3 836.2h1M396.7 862.2h1M425.2 825.2h1M549.3 875.6h1M525.8 873.8h1M447.5 806.4h1M459.7 987.7h1M569.3 838.4h1M550.8 919.7h1M445.0 879.9h1M469.1 910.1h1M594.2 849.1h1M496.3 900.6h1M497.9 864.8h1M497.8 832.6h1M561.7 919.3h1M443.5 956.1h1M450.4 868.2h1M438.3 1006.7h1M555.7 870.7h1M621.2 838.3h1M573.9 808.0h1M453.6 999.9h1M550.5 842.7h1M474.2 999.4h1M590.7 898.0h1M449.4 813.0h1M459.5 989.7h1M409.0 1018.2h1M476.9 956.5h1M471.5 823.7h1M549.8 977.3h1M529.1 812.8h1M476.9 822.9h1M430.0 796.4h1M533.4 929.2h1M403.7 885.9h1M401.2 812.7h1M546.0 906.4h1M428.4 995.6h1M596.7 814.2h1M552.8 939.9h1M517.0 831.8h1M420.4 871.8h1M464.3 856.4h1M512.9 795.8h1M407.4 895.0h1M536.1 952.0h1M614.2 835.5h1M423.6 1019.2h1M561.2 797.5h1M557.9 838.1h1M476.6 940.6h1M519.8 823.8h1M618.1 852.9h1M503.1 908.4h1M500.3 967.0h1M395.9 865.9h1M587.1 944.3h1M400.6 798.3h1M539.4 907.2h1M463.2 964.1h1M536.5 798.8h1M555.0 986.5h1M422.8 955.8h1M462.7 830.4h1M514.1 971.7h1M453.6 923.4h1M457.4 827.5h1M603.6 823.4h1M403.4 884.7h1M577.7 855.6h1M615.5 877.7h1M558.3 824.4h1M453.0 830.2h1M560.0 942.4h1M467.4 858.1h1M605.4 874.4h1M578.4 878.7h1M437.5 875.5h1M440.8 854.8h1M391.2 975.3h1M577.4 858.2h1M409.1 888.8h1M455.7 901.6h1M463.2 868.8h1M458.3 951.9h1M404.3 868.4h1M400.4 977.1h1M528.7 882.2h1M422.1 797.9h1M394.4 870.6h1M465.7 853.9h1M433.2 860.3h1M609.2 793.4h1M415.4 919.0h1M401.7 939.4h1M408.4 924.0h1M569.9 880.6h1M571.8 898.5h1M543.7 902.6h1M501.9 873.1h1M534.5 828.1h1M414.7 812.3h1M583.5 870.6h1M579.3 924.6h1M555.5 927.0h1M446.0 960.4h1M440.8 944.7h1M629.1 812.2h1M572.0 878.2h1M581.2 819.0h1M500.7 928.3h1M557.9 802.9h1M495.7 914.9h1M555.6 820.5h1M407.6 971.6h1M485.1 921.5h1M595.6 808.2h1M506.0 911.6h1M524.8 848.4h1M525.9 840.7h1M437.4 886.0h1M555.6 1006.5h1M445.9 989.2h1M399.9 887.4h1M433.2 809.6h1M531.3 971.4h1M493.8 875.6h1M487.8 992.1h1M606.4 799.8h1M410.1 925.3h1M526.1 809.0h1M490.0 860.8h1M425.2 922.9h1M485.2 825.0h1M436.7 910.9h1M555.2 844.4h1M454.0 916.7h1M515.7 895.5h1M523.5 800.7h1M405.6 956.2h1M439.6 1009.6h1M439.1 878.2h1M630.4 940.9h1M503.4 805.0h1M454.6 959.5h1M562.2 855.7h1M401.0 890.7h1M599.3 935.8h1M389.4 909.0h1M400.2 857.4h1M470.2 993.8h1M500.2 814.6h1M389.3 931.6h1M458.3 835.5h1M630.0 1005.7h1M402.4 957.1h1M502.6 969.3h1M631.4 943.4h1M467.0 964.9h1M464.1 1002.5h1M555.1 842.9h1M508.1 960.7h1M456.0 834.3h1M517.1 899.0h1M544.7 871.2h1M464.9 938.8h1M573.3 986.1h1M550.4 808.0h1M444.6 832.8h1M561.7 803.3h1M431.0 956.4h1M422.9 872.6h1M430.4 842.3h1M419.4 1013.0h1M533.7 967.0h1M401.7 932.8h1M497.3 996.5h1M410.2 846.9h1M529.4 995.6h1M508.7 932.5h1M397.6 945.1h1M560.4 845.6h1M512.9 906.0h1M529.0 928.0h1M552.4 865.7h1M610.9 802.7h1M431.2 877.0h1M499.6 915.4h1M431.5 929.0h1M479.6 1013.3h1M504.2 977.7h1M456.0 816.1h1M467.4 926.8h1M495.9 982.5h1M436.8 1005.0h1M593.4 830.3h1M513.5 971.9h1M493.1 857.2h1M391.5 879.3h1M499.8 901.0h1M432.3 1009.5h1M491.2 810.8h1M556.4 916.2h1M572.7 797.4h1M435.9 824.3h1M526.5 899.1h1M402.0 808.9h1M520.0 871.3h1M392.5 859.0h1M551.8 894.9h1M481.3 800.9h1M584.6 800.5h1M583.3 847.1h1M445.9 1008.4h1M410.9 966.7h1M598.6 810.7h1M473.0 981.5h1M483.1 987.1h1M487.2 960.3h1M456.1 853.0h1M518.8 894.2h1M562.5 801.0h1M536.9 917.3h1M410.0 853.9h1M405.8 1012.1h1M424.3 946.3h1M510.2 979.3h1M542.4 800.4h1M569.8 899.2h1M482.3 851.1h1M472.8 905.0h1M559.5 919.5h1M473.0 892.8h1M576.3 866.2h1M567.2 946.8h1M417.5 998.1h1M585.8 854.7h1M411.0 996.0h1M466.2 805.6h1M548.2 872.2h1M598.7 913.7h1M616.0 874.6h1M453.1 811.5h1M583.7 831.2h1M479.6 1020.0h1M403.9 888.7h1M414.3 1011.6h1M419.1 912.5h1M545.8 895.3h1M460.6 902.8h1M575.6 852.5h1M453.6 833.4h1M465.2 809.5h1M549.3 818.3h1M484.6 949.9h1M633.5 876.4h1M465.9 994.0h1M446.4 838.5h1M428.1 855.1h1M471.0 871.2h1M513.5 853.4h1M404.3 888.5h1M479.2 977.6h1M577.5 809.4h1M577.0 849.1h1M424.6 805.2h1M462.7 971.3h1M454.0 820.5h1M556.4 910.2h1M420.4 992.7h1M630.5 865.7h1M416.5 819.6h1M518.1 854.3h1M539.1 991.7h1M598.4 820.7h1M518.6 830.6h1M442.3 970.6h1M491.6 940.1h1M537.3 866.8h1M518.6 954.5h1M580.5 827.0h1M520.7 995.7h1M482.3 925.4h1M514.7 1010.6h1M515.8 930.1h1M390.5 924.5h1M468.7 990.3h1M528.9 927.1h1M563.3 812.9h1M493.2 933.7h1M571.6 860.5h1M511.8 939.7h1M478.9 1022.6h1M447.6 933.3h1M584.2 984.8h1M614.8 874.5h1M567.4 795.7h1M442.2 803.8h1M561.7 797.2h1M512.2 843.1h1M389.5 866.9h1M578.2 943.5h1M502.7 965.2h1M537.0 966.0h1M389.9 989.6h1M558.2 958.9h1M519.2 898.6h1M446.9 888.0h1M418.0 811.7h1M486.0 796.1h1M505.7 827.2h1M392.2 991.8h1M424.4 884.9h1M555.5 806.8h1M522.3 983.7h1M570.7 957.3h1M451.2 917.6h1M441.7 909.5h1M402.9 853.2h1M478.7 885.2h1M499.0 944.8h1M439.4 997.7h1M444.9 1007.0h1M418.0 916.5h1M550.7 899.0h1M423.2 913.8h1M456.9 1007.6h1M489.8 877.2h1M455.4 806.9h1M548.8 883.1h1M422.5 942.4h1M546.5 984.6h1M416.5 1009.9h1M530.7 951.1h1M628.8 980.1h1M620.8 979.0h1M522.3 930.9h1M427.0 1010.3h1M479.1 998.0h1M579.0 794.8h1M420.5 820.9h1M467.3 946.3h1M613.7 825.2h1M474.2 1002.5h1M467.3 813.5h1M455.0 916.7h1M520.8 882.1h1M520.9 848.0h1M570.4 812.9h1M516.0 879.7h1M408.4 816.0h1M532.3 936.6h1M534.2 866.9h1M534.7 969.4h1M461.4 1008.6h1M453.6 997.0h1M469.0 963.1h1M395.6 972.5h1M427.6 814.2h1M458.6 1016.6h1M514.0 925.5h1M612.2 917.9h1M560.4 948.0h1M500.1 894.2h1M497.0 892.0h1M495.2 888.4h1M490.8 886.2h1M487.8 884.6h1M486.0 882.2h1M485.1 878.5h1M484.9 874.9h1M484.0 870.2h1M482.5 867.1h1M480.6 863.9h1M480.5 860.4h1M477.5 856.9h1M474.6 853.4h1M473.8 850.6h1M472.3 845.7h1M469.1 843.4h1M466.2 841.4h1M462.8 841.5h1M460.5 844.6h1M460.9 847.5h1M461.9 852.2h1M463.5 856.6h1M464.7 859.4h1M466.1 862.1h1M469.2 864.6h1M473.1 867.4h1M477.7 868.4h1M480.7 870.1h1M483.8 872.9h1M485.6 875.9h1M488.1 878.9h1M491.4 881.3h1M495.8 882.3h1M498.3 884.7h1M500.7 889.2h1M503.8 891.8h1M506.2 893.9h1M509.3 895.2h1M513.2 897.4h1M516.6 900.5h1M519.4 902.7h1M523.9 903.1h1M528.8 901.8h1M533.3 899.2h1M536.1 899.7h1M539.9 902.7h1M543.0 906.6h1M546.8 909.3h1M550.7 911.0h1M555.2 911.8h1M558.0 913.1h1M562.8 912.0h1M566.5 912.2h1M569.7 909.6h1M572.4 908.1h1M575.1 906.1h1M577.0 903.3h1M577.3 900.4h1M575.6 896.4h1M575.8 891.9h1M574.3 888.4h1M571.1 884.4h1M567.8 881.1h1M563.7 878.7h1M561.3 875.9h1M557.4 873.7h1M552.8 872.6h1M548.6 874.0h1M545.6 874.6h1M542.0 875.7h1M537.3 876.9h1M533.2 876.7h1M530.3 877.3h1M527.7 878.6h1M523.7 881.8h1M519.7 882.1h1M516.1 885.7h1M514.8 889.9h1M512.0 893.4h1M508.3 896.3h1M505.1 897.1h1M501.6 897.7h1M497.9 898.2h1M494.5 900.4h1M491.0 902.7h1M488.7 904.4h1M486.1 908.3h1M482.4 910.7h1M477.9 911.1h1M474.3 913.4h1M470.6 914.5h1M465.5 914.8h1M462.0 913.7h1M457.4 912.3h1M454.1 911.3h1M451.6 908.6h1M449.0 906.9h1M446.9 903.9h1M444.2 901.9h1M442.0 898.3h1M440.2 894.3h1M440.4 889.6h1M440.5 885.8h1M441.7 882.1h1M444.1 879.5h1M447.3 879.0h1M450.9 879.2h1M455.5 879.3h1M459.3 878.8h1M462.8 880.0h1M465.7 883.2h1M466.9 887.8h1M465.5 891.2h1M463.3 894.0h1M459.2 895.6h1M455.1 895.5h1M451.0 893.9h1M446.4 895.5h1M443.1 897.3h1M442.7 901.5h1M443.5 904.3h1M445.0 907.8h1M448.9 910.4h1M453.5 912.5h1M456.5 913.1h1M460.6 912.7h1M464.1 912.5h1M467.3 911.2h1M470.6 908.4h1M473.9 906.7h1M478.2 904.6h1M482.5 902.6h1M485.9 901.7h1M491.0 901.0h1M494.1 902.2h1M498.5 904.3h1M502.8 902.9h1M506.5 901.0h1M510.6 899.1h1M513.8 898.5h1M518.8 898.3h1M523.5 898.1h1M526.9 899.4h1M528.4 902.2h1M528.4 905.5h1M528.7 910.5h1M528.2 913.9h1M527.1 916.8h1M526.1 919.8h1M523.6 923.0h1M521.5 927.3h1M519.6 929.9h1M515.9 932.6h1M511.6 934.8h1M509.0 936.7h1M506.5 939.5h1M503.4 940.3h1M499.7 942.6h1M497.0 944.1h1M493.6 945.9h1M491.4 949.0h1M489.3 952.0h1M485.3 954.3h1M482.5 957.0h1M480.7 959.5h1M478.3 961.3h1M474.5 962.5h1M470.8 962.5h1M467.0 962.5h1M463.6 962.5h1M459.3 962.9h1M456.0 961.6h1M453.1 958.0h1M451.6 955.0h1M449.5 952.1h1M448.0 948.6h1M447.2 943.9h1M448.0 941.1h1M449.3 937.7h1M449.7 933.2h1M449.6 929.7h1M453.2 926.6h1M456.5 925.4h1M460.3 926.9h1M462.9 928.7h1M467.2 930.0h1M470.2 930.1h1M475.1 930.8h1M478.6 931.3h1M482.6 931.8h1M485.3 932.9h1M488.4 932.3h1M491.6 933.2h1M496.1 934.1h1M499.4 936.3h1M503.6 938.6h1M505.6 941.1h1M505.7 945.4h1M507.6 949.7h1M509.9 953.9h1M511.1 957.5h1M509.7 960.6h1M505.0 962.5h1M500.4 963.8h1M496.2 963.7h1M492.6 962.3h1M490.9 959.2h1M487.5 956.4h1M485.2 954.0h1M482.1 950.4h1M480.8 947.1h1M481.1 942.5h1M482.8 938.7h1M485.8 935.4h1M488.9 933.9h1M490.9 931.3h1M493.4 927.4h1M496.9 924.1h1M500.4 922.2h1M502.8 919.4h1M504.5 915.8h1M506.9 913.1h1M508.7 909.9h1M511.7 907.3h1M516.1 907.2h1M519.7 907.5h1M523.9 908.9h1M527.6 910.8h1M529.9 913.6h1M530.0 917.9h1M529.1 922.5h1M532.1 925.2h1M535.6 928.1h1M538.2 929.3h1M541.8 930.6h1M546.8 931.3h1M551.1 933.4h1M553.0 936.1h1M555.5 940.2h1M555.8 943.1h1M553.3 945.4h1M549.6 946.7h1M545.4 945.7h1M541.1 943.3h1M538.6 940.6h1M536.1 939.3h1M533.8 937.4h1M529.3 935.1h1M527.0 933.4h1M548.0 905.7h1M551.3 904.8h1M554.2 903.2h1M557.8 902.3h1M560.1 899.0h1M564.0 899.3h1M565.7 900.4h1M569.3 899.9h1M572.2 901.2h1M575.0 902.2h1M577.9 901.8h1M581.4 899.9h1M584.1 899.8h1M587.6 898.9h1M590.0 897.2h1M594.8 897.7h1M597.9 899.0h1M599.8 898.1h1M603.5 897.8h1M605.6 896.4h1M609.9 896.9h1M612.1 896.3h1M615.2 898.1h1M618.4 899.9h1M613.3 902.6h1M612.4 904.1h1M610.2 902.9h1M604.1 904.6h1M603.4 902.2h1M595.8 866.5h1M598.6 864.5h1M604.2 863.0h1M606.1 860.3h1M608.4 859.5h1M611.8 858.0h1M614.1 859.4h1M618.1 856.7h1M620.8 857.8h1M625.2 855.6h1M627.2 855.7h1M629.8 853.3h1" stroke="#3A3A3A" stroke-width="1.3" stroke-opacity="1.0" fill="none"/>
<ellipse cx="186.38" cy="898.32" rx="56.89" ry="43.41" fill="none" stroke="#000" stroke-width="2.4" transform="rotate(80.15 186.38 898.32)"/>
<ellipse cx="189.46" cy="896.67" rx="53.48" ry="44.45" fill="none" stroke="#B52828" stroke-width="2.4" transform="rotate(116.86 189.46 896.67)"/>
<ellipse cx="503.43" cy="898.12" rx="104.22" ry="73.01" fill="none" stroke="#000" stroke-width="2.4" transform="rotate(136.37 503.43 898.12)"/>
<ellipse cx="505.51" cy="898.16" rx="69.61" ry="56.42" fill="none" stroke="#B52828" stroke-width="2.4" transform="rotate(95.47 505.51 898.16)"/>
<line x1="75.40" y1="1118.20" x2="105.20" y2="1118.20" stroke="#B52828" stroke-width="2" />
<line x1="75.40" y1="1138.50" x2="105.20" y2="1138.50" stroke="#000" stroke-width="2" />
<text x="109.40" y="1122.40" font-size="12.35" text-anchor="start" fill="#111" >The Ellipse Containing 95% COP Area (SR ON)</text>
<text x="109.40" y="1142.60" font-size="12.35" text-anchor="start" fill="#111" >The Ellipse Containing 95% COP Area (SR OFF)</text>
<line x1="413.00" y1="1120.40" x2="441.00" y2="1120.40" stroke="#B52828" stroke-width="1.8" stroke-dasharray="1.8 2.6"/>
<line x1="413.00" y1="1138.50" x2="441.00" y2="1138.50" stroke="#000" stroke-width="1.8" stroke-dasharray="1.8 2.6"/>
<text x="447.40" y="1123.40" font-size="12.35" text-anchor="start" fill="#111" >COP Trajectory (SR ON)</text>
<text x="447.40" y="1141.80" font-size="12.35" text-anchor="start" fill="#111" >COP Trajectory (SR OFF)</text>
</svg></body></html>
